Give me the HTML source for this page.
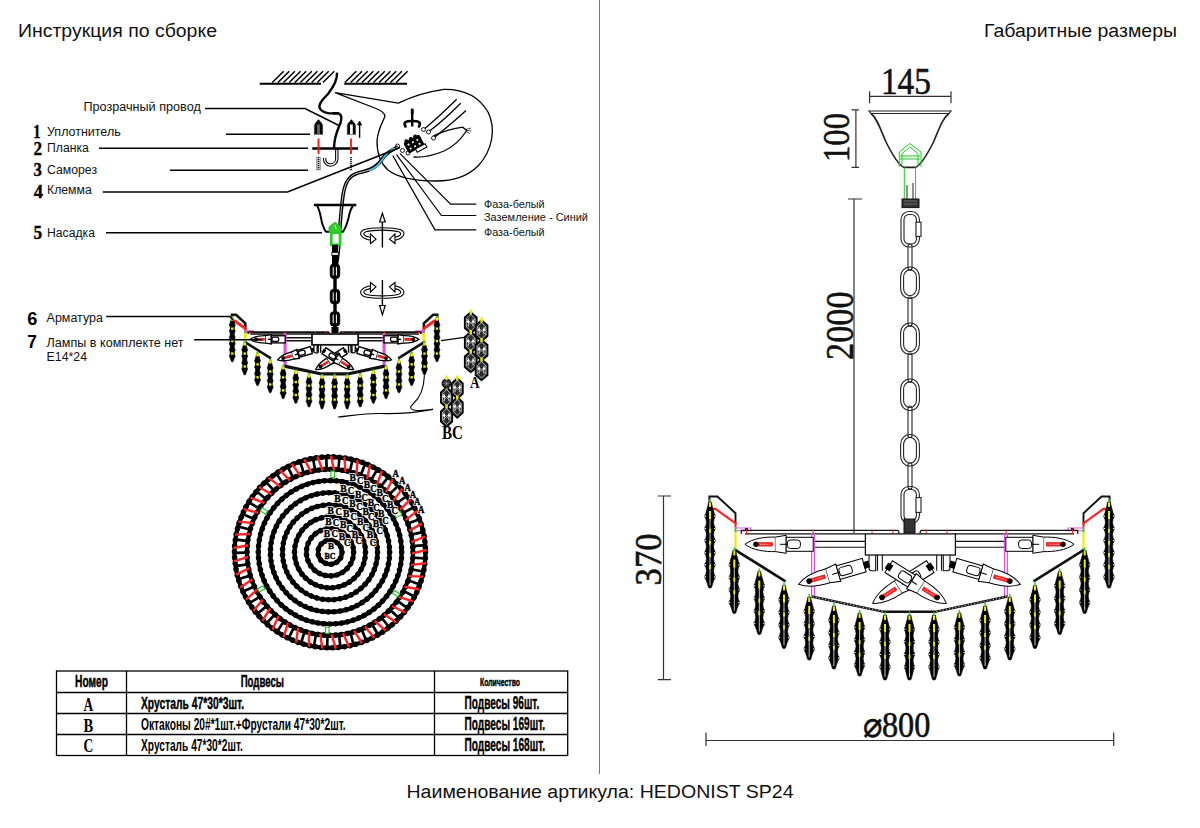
<!DOCTYPE html>
<html><head><meta charset="utf-8">
<style>
html,body{margin:0;padding:0;background:#fff;width:1200px;height:828px;overflow:hidden}
svg{position:absolute;left:0;top:0}
text{font-family:"Liberation Sans",sans-serif}
text.sf,.sf text{font-family:"Liberation Serif",serif}
</style></head><body>
<svg width="1200" height="828" viewBox="0 0 1200 828">
<rect width="1200" height="828" fill="#fff"/>
<!-- divider -->
<line x1="599.5" y1="0" x2="599.5" y2="774" stroke="#777" stroke-width="1"/>
<!-- headings -->
<text x="18" y="37" font-size="18" fill="#111" textLength="199" lengthAdjust="spacingAndGlyphs">Инструкция по сборке</text>
<text x="984" y="36.5" font-size="18" fill="#111" textLength="193" lengthAdjust="spacingAndGlyphs">Габаритные размеры</text>
<text x="406.5" y="798" font-size="18" fill="#111" textLength="387" lengthAdjust="spacingAndGlyphs">Наименование артикула: HEDONIST SP24</text>

<!--DRAW-->
<g id="circ">
<line x1="338.3" y1="469.7" x2="339.6" y2="456.8" stroke="#000" stroke-width="2.7"/>
<line x1="349.7" y1="471.7" x2="352.8" y2="459.0" stroke="#000" stroke-width="2.7"/>
<line x1="360.7" y1="475.2" x2="365.5" y2="463.1" stroke="#000" stroke-width="2.7"/>
<line x1="371.1" y1="480.2" x2="377.6" y2="468.9" stroke="#000" stroke-width="2.7"/>
<line x1="380.8" y1="486.6" x2="388.7" y2="476.4" stroke="#000" stroke-width="2.7"/>
<line x1="389.4" y1="494.4" x2="398.7" y2="485.3" stroke="#000" stroke-width="2.7"/>
<line x1="396.9" y1="503.2" x2="407.4" y2="495.5" stroke="#000" stroke-width="2.7"/>
<line x1="403.1" y1="513.0" x2="414.5" y2="506.8" stroke="#000" stroke-width="2.7"/>
<line x1="407.9" y1="523.5" x2="420.0" y2="519.0" stroke="#000" stroke-width="2.7"/>
<line x1="411.1" y1="534.6" x2="423.8" y2="531.9" stroke="#000" stroke-width="2.7"/>
<line x1="412.8" y1="546.1" x2="425.7" y2="545.1" stroke="#000" stroke-width="2.7"/>
<line x1="412.8" y1="557.7" x2="425.8" y2="558.5" stroke="#000" stroke-width="2.7"/>
<line x1="411.3" y1="569.2" x2="424.0" y2="571.8" stroke="#000" stroke-width="2.7"/>
<line x1="408.1" y1="580.3" x2="420.4" y2="584.7" stroke="#000" stroke-width="2.7"/>
<line x1="403.5" y1="590.9" x2="415.0" y2="597.0" stroke="#000" stroke-width="2.7"/>
<line x1="397.4" y1="600.8" x2="407.9" y2="608.3" stroke="#000" stroke-width="2.7"/>
<line x1="390.0" y1="609.7" x2="399.4" y2="618.6" stroke="#000" stroke-width="2.7"/>
<line x1="381.4" y1="617.5" x2="389.5" y2="627.7" stroke="#000" stroke-width="2.7"/>
<line x1="371.9" y1="624.0" x2="378.4" y2="635.2" stroke="#000" stroke-width="2.7"/>
<line x1="361.5" y1="629.1" x2="366.4" y2="641.1" stroke="#000" stroke-width="2.7"/>
<line x1="350.5" y1="632.7" x2="353.7" y2="645.3" stroke="#000" stroke-width="2.7"/>
<line x1="339.1" y1="634.8" x2="340.5" y2="647.7" stroke="#000" stroke-width="2.7"/>
<line x1="327.5" y1="635.3" x2="327.1" y2="648.3" stroke="#000" stroke-width="2.7"/>
<line x1="316.0" y1="634.1" x2="313.8" y2="646.9" stroke="#000" stroke-width="2.7"/>
<line x1="304.7" y1="631.4" x2="300.8" y2="643.7" stroke="#000" stroke-width="2.7"/>
<line x1="294.0" y1="627.1" x2="288.3" y2="638.8" stroke="#000" stroke-width="2.7"/>
<line x1="283.9" y1="621.3" x2="276.7" y2="632.2" stroke="#000" stroke-width="2.7"/>
<line x1="274.8" y1="614.3" x2="266.1" y2="624.0" stroke="#000" stroke-width="2.7"/>
<line x1="266.7" y1="606.0" x2="256.8" y2="614.4" stroke="#000" stroke-width="2.7"/>
<line x1="259.8" y1="596.6" x2="248.8" y2="603.6" stroke="#000" stroke-width="2.7"/>
<line x1="254.3" y1="586.4" x2="242.5" y2="591.8" stroke="#000" stroke-width="2.7"/>
<line x1="250.3" y1="575.6" x2="237.8" y2="579.2" stroke="#000" stroke-width="2.7"/>
<line x1="247.9" y1="564.3" x2="235.0" y2="566.1" stroke="#000" stroke-width="2.7"/>
<line x1="247.0" y1="552.7" x2="234.0" y2="552.8" stroke="#000" stroke-width="2.7"/>
<line x1="247.8" y1="541.2" x2="234.9" y2="539.4" stroke="#000" stroke-width="2.7"/>
<line x1="250.1" y1="529.8" x2="237.6" y2="526.3" stroke="#000" stroke-width="2.7"/>
<line x1="254.0" y1="518.9" x2="242.1" y2="513.7" stroke="#000" stroke-width="2.7"/>
<line x1="259.4" y1="508.7" x2="248.3" y2="501.8" stroke="#000" stroke-width="2.7"/>
<line x1="266.2" y1="499.3" x2="256.2" y2="491.0" stroke="#000" stroke-width="2.7"/>
<line x1="274.2" y1="490.9" x2="265.4" y2="481.3" stroke="#000" stroke-width="2.7"/>
<line x1="283.2" y1="483.7" x2="275.9" y2="473.0" stroke="#000" stroke-width="2.7"/>
<line x1="293.2" y1="477.9" x2="287.5" y2="466.2" stroke="#000" stroke-width="2.7"/>
<line x1="304.0" y1="473.5" x2="299.9" y2="461.1" stroke="#000" stroke-width="2.7"/>
<line x1="315.2" y1="470.6" x2="312.9" y2="457.8" stroke="#000" stroke-width="2.7"/>
<line x1="326.7" y1="469.4" x2="326.2" y2="456.4" stroke="#000" stroke-width="2.7"/>
<circle cx="330.0" cy="552.3" r="95.5" fill="none" stroke="#000" stroke-width="4.2"/>
<circle cx="330.0" cy="552.3" r="95.5" fill="none" stroke="#000" stroke-width="5.6" stroke-linecap="round" stroke-dasharray="0.01 5.873"/>
<circle cx="330.0" cy="552.3" r="83" fill="none" stroke="#000" stroke-width="4.2"/>
<circle cx="330.0" cy="552.3" r="83" fill="none" stroke="#000" stroke-width="5.6" stroke-linecap="round" stroke-dasharray="0.01 5.916"/>
<circle cx="330.0" cy="552.3" r="71.7" fill="none" stroke="#000" stroke-width="4.2"/>
<circle cx="330.0" cy="552.3" r="71.7" fill="none" stroke="#000" stroke-width="5.6" stroke-linecap="round" stroke-dasharray="0.01 5.918"/>
<circle cx="330.0" cy="552.3" r="59.6" fill="none" stroke="#000" stroke-width="4.2"/>
<circle cx="330.0" cy="552.3" r="59.6" fill="none" stroke="#000" stroke-width="5.6" stroke-linecap="round" stroke-dasharray="0.01 5.934"/>
<circle cx="330.0" cy="552.3" r="47.5" fill="none" stroke="#000" stroke-width="4.2"/>
<circle cx="330.0" cy="552.3" r="47.5" fill="none" stroke="#000" stroke-width="5.6" stroke-linecap="round" stroke-dasharray="0.01 5.842"/>
<circle cx="330.0" cy="552.3" r="35.5" fill="none" stroke="#000" stroke-width="4.2"/>
<circle cx="330.0" cy="552.3" r="35.5" fill="none" stroke="#000" stroke-width="5.6" stroke-linecap="round" stroke-dasharray="0.01 5.860"/>
<circle cx="330.0" cy="552.3" r="23.6" fill="none" stroke="#000" stroke-width="4.2"/>
<circle cx="330.0" cy="552.3" r="23.6" fill="none" stroke="#000" stroke-width="5.6" stroke-linecap="round" stroke-dasharray="0.01 5.921"/>
<circle cx="330.0" cy="552.3" r="12" fill="none" stroke="#000" stroke-width="4.2"/>
<circle cx="330.0" cy="552.3" r="12" fill="none" stroke="#000" stroke-width="5.6" stroke-linecap="round" stroke-dasharray="0.01 5.790"/>
<line x1="334.1" y1="470.4" x2="331.0" y2="455.8" stroke="#f22" stroke-width="2.4"/>
<line x1="345.5" y1="471.8" x2="344.4" y2="456.9" stroke="#f22" stroke-width="2.4"/>
<line x1="356.5" y1="474.7" x2="357.5" y2="459.8" stroke="#f22" stroke-width="2.4"/>
<line x1="367.1" y1="479.1" x2="370.1" y2="464.5" stroke="#f22" stroke-width="2.4"/>
<line x1="376.9" y1="485.0" x2="382.0" y2="471.0" stroke="#f22" stroke-width="2.4"/>
<line x1="385.8" y1="492.2" x2="392.8" y2="479.0" stroke="#f22" stroke-width="2.4"/>
<line x1="393.6" y1="500.5" x2="402.4" y2="488.4" stroke="#f22" stroke-width="2.4"/>
<line x1="400.2" y1="509.9" x2="410.5" y2="499.1" stroke="#f22" stroke-width="2.4"/>
<line x1="405.4" y1="520.1" x2="417.2" y2="510.9" stroke="#f22" stroke-width="2.4"/>
<line x1="409.2" y1="530.9" x2="422.1" y2="523.4" stroke="#f22" stroke-width="2.4"/>
<line x1="411.4" y1="542.1" x2="425.2" y2="536.5" stroke="#f22" stroke-width="2.4"/>
<line x1="412.0" y1="553.5" x2="426.5" y2="549.9" stroke="#f22" stroke-width="2.4"/>
<line x1="411.0" y1="564.9" x2="425.9" y2="563.3" stroke="#f22" stroke-width="2.4"/>
<line x1="408.5" y1="576.1" x2="423.4" y2="576.6" stroke="#f22" stroke-width="2.4"/>
<line x1="404.4" y1="586.8" x2="419.1" y2="589.3" stroke="#f22" stroke-width="2.4"/>
<line x1="398.9" y1="596.8" x2="413.1" y2="601.4" stroke="#f22" stroke-width="2.4"/>
<line x1="392.0" y1="606.0" x2="405.4" y2="612.5" stroke="#f22" stroke-width="2.4"/>
<line x1="383.9" y1="614.1" x2="396.3" y2="622.4" stroke="#f22" stroke-width="2.4"/>
<line x1="374.8" y1="621.0" x2="385.9" y2="630.9" stroke="#f22" stroke-width="2.4"/>
<line x1="364.8" y1="626.5" x2="374.4" y2="638.0" stroke="#f22" stroke-width="2.4"/>
<line x1="354.2" y1="630.7" x2="362.1" y2="643.3" stroke="#f22" stroke-width="2.4"/>
<line x1="343.0" y1="633.3" x2="349.1" y2="646.9" stroke="#f22" stroke-width="2.4"/>
<line x1="331.6" y1="634.3" x2="335.8" y2="648.6" stroke="#f22" stroke-width="2.4"/>
<line x1="320.2" y1="633.7" x2="322.3" y2="648.5" stroke="#f22" stroke-width="2.4"/>
<line x1="309.0" y1="631.6" x2="309.0" y2="646.5" stroke="#f22" stroke-width="2.4"/>
<line x1="298.1" y1="627.9" x2="296.1" y2="642.6" stroke="#f22" stroke-width="2.4"/>
<line x1="287.9" y1="622.7" x2="283.8" y2="637.0" stroke="#f22" stroke-width="2.4"/>
<line x1="278.5" y1="616.1" x2="272.5" y2="629.8" stroke="#f22" stroke-width="2.4"/>
<line x1="270.2" y1="608.4" x2="262.3" y2="621.0" stroke="#f22" stroke-width="2.4"/>
<line x1="262.9" y1="599.5" x2="253.4" y2="610.9" stroke="#f22" stroke-width="2.4"/>
<line x1="257.0" y1="589.7" x2="246.0" y2="599.7" stroke="#f22" stroke-width="2.4"/>
<line x1="252.5" y1="579.2" x2="240.2" y2="587.6" stroke="#f22" stroke-width="2.4"/>
<line x1="249.5" y1="568.1" x2="236.1" y2="574.7" stroke="#f22" stroke-width="2.4"/>
<line x1="248.1" y1="556.8" x2="233.9" y2="561.4" stroke="#f22" stroke-width="2.4"/>
<line x1="248.3" y1="545.3" x2="233.6" y2="548.0" stroke="#f22" stroke-width="2.4"/>
<line x1="250.1" y1="534.0" x2="235.1" y2="534.6" stroke="#f22" stroke-width="2.4"/>
<line x1="253.4" y1="523.1" x2="238.5" y2="521.6" stroke="#f22" stroke-width="2.4"/>
<line x1="258.2" y1="512.7" x2="243.7" y2="509.1" stroke="#f22" stroke-width="2.4"/>
<line x1="264.4" y1="503.1" x2="250.5" y2="497.5" stroke="#f22" stroke-width="2.4"/>
<line x1="271.9" y1="494.5" x2="258.9" y2="487.0" stroke="#f22" stroke-width="2.4"/>
<line x1="280.5" y1="486.9" x2="268.7" y2="477.8" stroke="#f22" stroke-width="2.4"/>
<line x1="290.1" y1="480.7" x2="279.7" y2="470.0" stroke="#f22" stroke-width="2.4"/>
<line x1="300.4" y1="475.8" x2="291.6" y2="463.8" stroke="#f22" stroke-width="2.4"/>
<line x1="311.4" y1="472.4" x2="304.3" y2="459.3" stroke="#f22" stroke-width="2.4"/>
<line x1="322.7" y1="470.6" x2="317.5" y2="456.6" stroke="#f22" stroke-width="2.4"/>
<rect x="330.9" y="471.1" width="3.6" height="6.4" fill="#fff" stroke="#2b2" stroke-width="1.1" transform="rotate(2 332.7 474.3)"/>
<rect x="396.4" y="511.3" width="3.6" height="6.4" fill="#fff" stroke="#2b2" stroke-width="1.1" transform="rotate(61 398.2 514.5)"/>
<rect x="394.3" y="590.4" width="3.6" height="6.4" fill="#fff" stroke="#2b2" stroke-width="1.1" transform="rotate(122 396.1 593.6)"/>
<rect x="325.5" y="627.1" width="3.6" height="6.4" fill="#fff" stroke="#2b2" stroke-width="1.1" transform="rotate(182 327.3 630.3)"/>
<rect x="259.3" y="585.7" width="3.6" height="6.4" fill="#fff" stroke="#2b2" stroke-width="1.1" transform="rotate(242 261.1 588.9)"/>
<rect x="262.1" y="507.8" width="3.6" height="6.4" fill="#fff" stroke="#2b2" stroke-width="1.1" transform="rotate(302 263.9 511.0)"/>
<g class="sf" font-weight="bold" font-size="10.5" fill="#fff" stroke="#fff" stroke-width="2.2" stroke-linejoin="round"><text x="352.8" y="481.2" text-anchor="middle" textLength="6.4" lengthAdjust="spacingAndGlyphs">B</text>
<text x="360.1" y="484.0" text-anchor="middle" textLength="6.4" lengthAdjust="spacingAndGlyphs">C</text>
<text x="367.0" y="487.5" text-anchor="middle" textLength="6.4" lengthAdjust="spacingAndGlyphs">B</text>
<text x="373.5" y="491.6" text-anchor="middle" textLength="6.4" lengthAdjust="spacingAndGlyphs">C</text>
<text x="379.6" y="496.4" text-anchor="middle" textLength="6.4" lengthAdjust="spacingAndGlyphs">B</text>
<text x="385.2" y="501.7" text-anchor="middle" textLength="6.4" lengthAdjust="spacingAndGlyphs">C</text>
<text x="390.2" y="507.6" text-anchor="middle" textLength="6.4" lengthAdjust="spacingAndGlyphs">B</text>
<text x="394.6" y="513.9" text-anchor="middle" textLength="6.4" lengthAdjust="spacingAndGlyphs">C</text>
<text x="343.5" y="492.2" text-anchor="middle" textLength="6.4" lengthAdjust="spacingAndGlyphs">B</text>
<text x="351.0" y="494.4" text-anchor="middle" textLength="6.4" lengthAdjust="spacingAndGlyphs">C</text>
<text x="358.1" y="497.5" text-anchor="middle" textLength="6.4" lengthAdjust="spacingAndGlyphs">B</text>
<text x="364.8" y="501.4" text-anchor="middle" textLength="6.4" lengthAdjust="spacingAndGlyphs">C</text>
<text x="370.9" y="506.0" text-anchor="middle" textLength="6.4" lengthAdjust="spacingAndGlyphs">B</text>
<text x="376.5" y="511.4" text-anchor="middle" textLength="6.4" lengthAdjust="spacingAndGlyphs">C</text>
<text x="381.3" y="517.3" text-anchor="middle" textLength="6.4" lengthAdjust="spacingAndGlyphs">B</text>
<text x="385.4" y="523.8" text-anchor="middle" textLength="6.4" lengthAdjust="spacingAndGlyphs">C</text>
<text x="337.5" y="502.3" text-anchor="middle" textLength="6.4" lengthAdjust="spacingAndGlyphs">B</text>
<text x="345.2" y="503.9" text-anchor="middle" textLength="6.4" lengthAdjust="spacingAndGlyphs">C</text>
<text x="352.5" y="506.6" text-anchor="middle" textLength="6.4" lengthAdjust="spacingAndGlyphs">B</text>
<text x="359.4" y="510.3" text-anchor="middle" textLength="6.4" lengthAdjust="spacingAndGlyphs">C</text>
<text x="365.7" y="514.9" text-anchor="middle" textLength="6.4" lengthAdjust="spacingAndGlyphs">B</text>
<text x="371.3" y="520.4" text-anchor="middle" textLength="6.4" lengthAdjust="spacingAndGlyphs">C</text>
<text x="376.0" y="526.7" text-anchor="middle" textLength="6.4" lengthAdjust="spacingAndGlyphs">B</text>
<text x="379.8" y="533.6" text-anchor="middle" textLength="6.4" lengthAdjust="spacingAndGlyphs">C</text>
<text x="330.7" y="514.2" text-anchor="middle" textLength="6.4" lengthAdjust="spacingAndGlyphs">B</text>
<text x="338.6" y="514.8" text-anchor="middle" textLength="6.4" lengthAdjust="spacingAndGlyphs">C</text>
<text x="346.3" y="516.8" text-anchor="middle" textLength="6.4" lengthAdjust="spacingAndGlyphs">B</text>
<text x="353.6" y="520.3" text-anchor="middle" textLength="6.4" lengthAdjust="spacingAndGlyphs">C</text>
<text x="360.1" y="525.1" text-anchor="middle" textLength="6.4" lengthAdjust="spacingAndGlyphs">B</text>
<text x="365.6" y="531.1" text-anchor="middle" textLength="6.4" lengthAdjust="spacingAndGlyphs">C</text>
<text x="369.9" y="538.1" text-anchor="middle" textLength="6.4" lengthAdjust="spacingAndGlyphs">B</text>
<text x="372.9" y="545.9" text-anchor="middle" textLength="6.4" lengthAdjust="spacingAndGlyphs">C</text>
<text x="328.4" y="525.3" text-anchor="middle" textLength="6.4" lengthAdjust="spacingAndGlyphs">B</text>
<text x="335.9" y="525.8" text-anchor="middle" textLength="6.4" lengthAdjust="spacingAndGlyphs">C</text>
<text x="343.2" y="528.1" text-anchor="middle" textLength="6.4" lengthAdjust="spacingAndGlyphs">B</text>
<text x="349.6" y="532.1" text-anchor="middle" textLength="6.4" lengthAdjust="spacingAndGlyphs">C</text>
<text x="354.9" y="537.6" text-anchor="middle" textLength="6.4" lengthAdjust="spacingAndGlyphs">B</text>
<text x="358.7" y="544.2" text-anchor="middle" textLength="6.4" lengthAdjust="spacingAndGlyphs">C</text>
<text x="326.9" y="536.5" text-anchor="middle" textLength="6.4" lengthAdjust="spacingAndGlyphs">B</text>
<text x="334.8" y="536.9" text-anchor="middle" textLength="6.4" lengthAdjust="spacingAndGlyphs">C</text>
<text x="341.9" y="540.4" text-anchor="middle" textLength="6.4" lengthAdjust="spacingAndGlyphs">B</text>
<text x="347.1" y="546.3" text-anchor="middle" textLength="6.4" lengthAdjust="spacingAndGlyphs">C</text>
<text x="395.8" y="477.4" text-anchor="middle" textLength="6.4" lengthAdjust="spacingAndGlyphs">A</text>
<text x="402.1" y="483.7" text-anchor="middle" textLength="6.4" lengthAdjust="spacingAndGlyphs">A</text>
<text x="407.8" y="490.5" text-anchor="middle" textLength="6.4" lengthAdjust="spacingAndGlyphs">A</text>
<text x="412.9" y="497.7" text-anchor="middle" textLength="6.4" lengthAdjust="spacingAndGlyphs">A</text>
<text x="417.3" y="505.4" text-anchor="middle" textLength="6.4" lengthAdjust="spacingAndGlyphs">A</text>
<text x="421.1" y="513.3" text-anchor="middle" textLength="6.4" lengthAdjust="spacingAndGlyphs">A</text>
<text x="331" y="549" font-size="9" text-anchor="middle">B</text>
<text x="330" y="559" font-size="9" text-anchor="middle" textLength="11" lengthAdjust="spacingAndGlyphs">BC</text></g>
<g class="sf" font-weight="bold" font-size="10.5" fill="#000" stroke="#000" stroke-width="0.4"><text x="352.8" y="481.2" text-anchor="middle" textLength="6.4" lengthAdjust="spacingAndGlyphs">B</text>
<text x="360.1" y="484.0" text-anchor="middle" textLength="6.4" lengthAdjust="spacingAndGlyphs">C</text>
<text x="367.0" y="487.5" text-anchor="middle" textLength="6.4" lengthAdjust="spacingAndGlyphs">B</text>
<text x="373.5" y="491.6" text-anchor="middle" textLength="6.4" lengthAdjust="spacingAndGlyphs">C</text>
<text x="379.6" y="496.4" text-anchor="middle" textLength="6.4" lengthAdjust="spacingAndGlyphs">B</text>
<text x="385.2" y="501.7" text-anchor="middle" textLength="6.4" lengthAdjust="spacingAndGlyphs">C</text>
<text x="390.2" y="507.6" text-anchor="middle" textLength="6.4" lengthAdjust="spacingAndGlyphs">B</text>
<text x="394.6" y="513.9" text-anchor="middle" textLength="6.4" lengthAdjust="spacingAndGlyphs">C</text>
<text x="343.5" y="492.2" text-anchor="middle" textLength="6.4" lengthAdjust="spacingAndGlyphs">B</text>
<text x="351.0" y="494.4" text-anchor="middle" textLength="6.4" lengthAdjust="spacingAndGlyphs">C</text>
<text x="358.1" y="497.5" text-anchor="middle" textLength="6.4" lengthAdjust="spacingAndGlyphs">B</text>
<text x="364.8" y="501.4" text-anchor="middle" textLength="6.4" lengthAdjust="spacingAndGlyphs">C</text>
<text x="370.9" y="506.0" text-anchor="middle" textLength="6.4" lengthAdjust="spacingAndGlyphs">B</text>
<text x="376.5" y="511.4" text-anchor="middle" textLength="6.4" lengthAdjust="spacingAndGlyphs">C</text>
<text x="381.3" y="517.3" text-anchor="middle" textLength="6.4" lengthAdjust="spacingAndGlyphs">B</text>
<text x="385.4" y="523.8" text-anchor="middle" textLength="6.4" lengthAdjust="spacingAndGlyphs">C</text>
<text x="337.5" y="502.3" text-anchor="middle" textLength="6.4" lengthAdjust="spacingAndGlyphs">B</text>
<text x="345.2" y="503.9" text-anchor="middle" textLength="6.4" lengthAdjust="spacingAndGlyphs">C</text>
<text x="352.5" y="506.6" text-anchor="middle" textLength="6.4" lengthAdjust="spacingAndGlyphs">B</text>
<text x="359.4" y="510.3" text-anchor="middle" textLength="6.4" lengthAdjust="spacingAndGlyphs">C</text>
<text x="365.7" y="514.9" text-anchor="middle" textLength="6.4" lengthAdjust="spacingAndGlyphs">B</text>
<text x="371.3" y="520.4" text-anchor="middle" textLength="6.4" lengthAdjust="spacingAndGlyphs">C</text>
<text x="376.0" y="526.7" text-anchor="middle" textLength="6.4" lengthAdjust="spacingAndGlyphs">B</text>
<text x="379.8" y="533.6" text-anchor="middle" textLength="6.4" lengthAdjust="spacingAndGlyphs">C</text>
<text x="330.7" y="514.2" text-anchor="middle" textLength="6.4" lengthAdjust="spacingAndGlyphs">B</text>
<text x="338.6" y="514.8" text-anchor="middle" textLength="6.4" lengthAdjust="spacingAndGlyphs">C</text>
<text x="346.3" y="516.8" text-anchor="middle" textLength="6.4" lengthAdjust="spacingAndGlyphs">B</text>
<text x="353.6" y="520.3" text-anchor="middle" textLength="6.4" lengthAdjust="spacingAndGlyphs">C</text>
<text x="360.1" y="525.1" text-anchor="middle" textLength="6.4" lengthAdjust="spacingAndGlyphs">B</text>
<text x="365.6" y="531.1" text-anchor="middle" textLength="6.4" lengthAdjust="spacingAndGlyphs">C</text>
<text x="369.9" y="538.1" text-anchor="middle" textLength="6.4" lengthAdjust="spacingAndGlyphs">B</text>
<text x="372.9" y="545.9" text-anchor="middle" textLength="6.4" lengthAdjust="spacingAndGlyphs">C</text>
<text x="328.4" y="525.3" text-anchor="middle" textLength="6.4" lengthAdjust="spacingAndGlyphs">B</text>
<text x="335.9" y="525.8" text-anchor="middle" textLength="6.4" lengthAdjust="spacingAndGlyphs">C</text>
<text x="343.2" y="528.1" text-anchor="middle" textLength="6.4" lengthAdjust="spacingAndGlyphs">B</text>
<text x="349.6" y="532.1" text-anchor="middle" textLength="6.4" lengthAdjust="spacingAndGlyphs">C</text>
<text x="354.9" y="537.6" text-anchor="middle" textLength="6.4" lengthAdjust="spacingAndGlyphs">B</text>
<text x="358.7" y="544.2" text-anchor="middle" textLength="6.4" lengthAdjust="spacingAndGlyphs">C</text>
<text x="326.9" y="536.5" text-anchor="middle" textLength="6.4" lengthAdjust="spacingAndGlyphs">B</text>
<text x="334.8" y="536.9" text-anchor="middle" textLength="6.4" lengthAdjust="spacingAndGlyphs">C</text>
<text x="341.9" y="540.4" text-anchor="middle" textLength="6.4" lengthAdjust="spacingAndGlyphs">B</text>
<text x="347.1" y="546.3" text-anchor="middle" textLength="6.4" lengthAdjust="spacingAndGlyphs">C</text>
<text x="395.8" y="477.4" text-anchor="middle" textLength="6.4" lengthAdjust="spacingAndGlyphs">A</text>
<text x="402.1" y="483.7" text-anchor="middle" textLength="6.4" lengthAdjust="spacingAndGlyphs">A</text>
<text x="407.8" y="490.5" text-anchor="middle" textLength="6.4" lengthAdjust="spacingAndGlyphs">A</text>
<text x="412.9" y="497.7" text-anchor="middle" textLength="6.4" lengthAdjust="spacingAndGlyphs">A</text>
<text x="417.3" y="505.4" text-anchor="middle" textLength="6.4" lengthAdjust="spacingAndGlyphs">A</text>
<text x="421.1" y="513.3" text-anchor="middle" textLength="6.4" lengthAdjust="spacingAndGlyphs">A</text>
<text x="331" y="549" font-size="9" text-anchor="middle">B</text>
<text x="330" y="559" font-size="9" text-anchor="middle" textLength="11" lengthAdjust="spacingAndGlyphs">BC</text></g>
</g>
<g id="rchand">
<g stroke="#333" stroke-width="1.2" fill="none">
<path d="M869.6,96.3 L951,96.3 M869.6,91.3 L869.6,103.3 M951,91.3 L951,103.3"/>
<path d="M855.9,109.8 L855.9,167.4 M851.5,109.8 L859,109.8 M851.5,167.4 L859,167.4"/>
<path d="M854,199 L854,533 M848,199 L862,199"/>
<path d="M663.5,496 L663.5,679.6 M657.8,496 L671,496 M657.8,679.6 L671,679.6"/>
<path d="M706,740.5 L1113.7,740.5 M706,732.5 L706,746 M1113.7,732.5 L1113.7,746"/>
</g>
<path d="M869,111 L951,111 L949,113.5 L871,113.5 Z" fill="#fff" stroke="#222" stroke-width="1.2"/>
<path d="M871,113.5 C877,118 880,128 886,142 C893,156 899,165 903.7,167.4 L915.6,167.4 C920.5,165 926.5,156 933.5,142 C939.5,128 942.5,118 949,113.5" fill="none" stroke="#222" stroke-width="1.6"/>
<g fill="none" stroke="#2c2" stroke-width="1">
<path d="M899.3,167 L899.3,152 L909.8,143.5 L921,152 L921,167 M902,165 L902,153.5 L909.8,147 L918,153.5 L918,165 M900,156 L920,156 M900,159 L920,159"/>
<path d="M904.3,167.4 L904.3,200 M915.6,167.4 L915.6,200"/>
</g>
<path d="M907,185 L907,200 M913,183 L913,200" stroke="#222" stroke-width="1" fill="none"/>
<rect x="902" y="199" width="17" height="8.6" fill="#333" stroke="#111" stroke-width="1"/>
<path d="M904,201 L917,201 M904,204 L917,204" stroke="#888" stroke-width="0.7"/>
<g fill="none" stroke="#222" stroke-width="1.1">
<rect x="901" y="211.5" width="18.4" height="35.5" rx="8" ry="8"/><rect x="904" y="214.5" width="12.4" height="29.5" rx="5" ry="5"/><rect x="916" y="222.2" width="5" height="14.2" fill="#fff"/>
<rect x="900.6" y="267" width="18.8" height="31.5" rx="9" ry="10"/>
<rect x="903.6" y="270" width="12.8" height="25.5" rx="6" ry="7"/>
<rect x="900.6" y="323" width="18.8" height="31.5" rx="9" ry="10"/>
<rect x="903.6" y="326" width="12.8" height="25.5" rx="6" ry="7"/>
<rect x="900.6" y="379" width="18.8" height="31.5" rx="9" ry="10"/>
<rect x="903.6" y="382" width="12.8" height="25.5" rx="6" ry="7"/>
<rect x="900.6" y="434.5" width="18.8" height="31.5" rx="9" ry="10"/>
<rect x="903.6" y="437.5" width="12.8" height="25.5" rx="6" ry="7"/>
<rect x="908" y="244" width="4" height="26" rx="2"/>
<rect x="908" y="297" width="4" height="29" rx="2"/>
<rect x="908" y="353" width="4" height="29" rx="2"/>
<rect x="908" y="406" width="4" height="31.5" rx="2"/>
<rect x="908" y="463" width="4" height="26" rx="2"/>
<rect x="901" y="486.5" width="18.4" height="37.0" rx="8" ry="8"/><rect x="904" y="489.5" width="12.4" height="31.0" rx="5" ry="5"/><rect x="916" y="497.6" width="5" height="14.8" fill="#fff"/>
</g>
<rect x="904" y="519" width="11" height="14" fill="#333" stroke="#111" stroke-width="1"/>
<g class="sf" fill="#111" stroke="#111" stroke-width="0.6">
<text x="880.9" y="93.5" font-size="38" textLength="50" lengthAdjust="spacingAndGlyphs">145</text>
<text transform="translate(849.3,162) rotate(-90)" x="0" y="0" font-size="38" textLength="49" lengthAdjust="spacingAndGlyphs">100</text>
<text transform="translate(853,359.9) rotate(-90)" x="0" y="0" font-size="39" textLength="68.5" lengthAdjust="spacingAndGlyphs">2000</text>
<text transform="translate(661.4,585.4) rotate(-90)" x="0" y="0" font-size="38" textLength="52" lengthAdjust="spacingAndGlyphs">370</text>
<text x="862.6" y="736.6" font-size="35" textLength="67.7" lengthAdjust="spacingAndGlyphs">⌀800</text>
</g>
<polyline points="709.4,502 709.4,496.5 717.4,496.5 735.5,513.2 735.5,524" fill="none" stroke="#111" stroke-width="1.90"/>
<polyline points="710,513 710,509.6 715.2,508.6 735.5,523.3 735.5,527.5" fill="none" stroke="#f22" stroke-width="2.10"/>
<line x1="735.5" y1="527.5" x2="735.5" y2="532" stroke="#3c3" stroke-width="2.00"/>
<line x1="735.5" y1="532" x2="735.5" y2="548" stroke="#ee0" stroke-width="2.20"/>
<line x1="735.5" y1="548" x2="735.5" y2="550.5" stroke="#3c3" stroke-width="2.00"/>
<rect x="735.5" y="528" width="15.5" height="2.8" fill="none" stroke="#d5d" stroke-width="1.00"/>
<rect x="745" y="528.3" width="3" height="2.2" fill="#000"/>
<path d="M741.3,534 L741.3,530.3 L897.4,530.3 Q899,530.3 899,533.9 M745,533.9 L865.4,533.9" fill="none" stroke="#111" stroke-width="1.20"/>
<line x1="746.4" y1="529.5" x2="746.4" y2="534.5" stroke="#f22" stroke-width="1.00"/>
<line x1="813" y1="529.5" x2="813" y2="534.5" stroke="#f22" stroke-width="1.00"/>
<line x1="872" y1="529.5" x2="872" y2="534.5" stroke="#f22" stroke-width="1.00"/>
<line x1="892.9" y1="529.5" x2="892.9" y2="534.5" stroke="#f22" stroke-width="1.00"/>
<path d="M813.8,541.4 L865.4,541.4 M813.8,547.2 L865.4,547.2" fill="none" stroke="#111" stroke-width="1.10"/>
<path d="M811.6,532.8 L811.6,596.5 M814.5,532.8 L814.5,596.5" fill="none" stroke="#d5d" stroke-width="1.30"/>
<g transform="translate(744.9,544.3) rotate(0.0)" fill="none" stroke="#000" stroke-width="1.00">
<path d="M0,0 C8,-6 20,-7.5 30.5,-7.2 L30.5,7.3 C20,7.5 8,6 0,0 Z" fill="#fff"/>
<path d="M30.5,-7.2 L41.3,-9 L41.3,9 L30.5,7.3" fill="#fff"/>
<rect x="41.3" y="-7" width="27" height="14" fill="#fff"/>
<rect x="42.5" y="-4.3" width="13" height="8.5" rx="3"/>
<line x1="35" y1="0" x2="42.5" y2="0"/>
<rect x="13.1" y="-1.8" width="14.5" height="3.6" fill="#f22" stroke="#c00" stroke-width="0.50"/>
<path d="M15,0 L26,0" stroke="#fcc" stroke-width="1" stroke-dasharray="1.2 1"/>
<circle cx="11" cy="0" r="2.3" fill="#000"/>
</g>
<g transform="translate(798.6,584.2) rotate(-16.2)" fill="none" stroke="#000" stroke-width="1.00">
<path d="M0,0 C8,-6 20,-7.5 30.5,-7.2 L30.5,7.3 C20,7.5 8,6 0,0 Z" fill="#fff"/>
<path d="M30.5,-7.2 L41.3,-9 L41.3,9 L30.5,7.3" fill="#fff"/>
<rect x="41.3" y="-7" width="27" height="14" fill="#fff"/>
<rect x="42.5" y="-4.3" width="13" height="8.5" rx="3"/>
<line x1="35" y1="0" x2="42.5" y2="0"/>
<rect x="13.1" y="-1.8" width="14.5" height="3.6" fill="#f22" stroke="#c00" stroke-width="0.50"/>
<path d="M15,0 L26,0" stroke="#fcc" stroke-width="1" stroke-dasharray="1.2 1"/>
<circle cx="11" cy="0" r="2.3" fill="#000"/>
</g>
<rect x="-3" y="-3.5" width="6" height="7" fill="#000" transform="translate(866.5,564.8) rotate(-16.2)"/>
<line x1="735.5" y1="550.1" x2="785.5" y2="581.3" stroke="#111" stroke-width="2.60"/>
<polyline points="811.6,596.5 884,611.8 909.5,611.8" fill="none" stroke="#111" stroke-width="2.40"/>
<line x1="812.5" y1="596.7" x2="883" y2="611.6" stroke="#fff" stroke-width="0.8" stroke-dasharray="1.2 2"/>
<path d="M869,555 L869,568 Q869,570.7 872,570.7 L875.7,570.7 L875.7,555 M877.5,555 L877.5,570.7 M882.3,555 L882.3,570.7" fill="none" stroke="#111" stroke-width="1.10"/>
<g transform="translate(872.7,603.3) rotate(-32.5)" fill="none" stroke="#000" stroke-width="1.00">
<path d="M0,0 C8,-6 20,-7.5 30.5,-7.2 L30.5,7.3 C20,7.5 8,6 0,0 Z" fill="#fff"/>
<path d="M30.5,-7.2 L41.3,-9 L41.3,9 L30.5,7.3" fill="#fff"/>
<rect x="41.3" y="-7" width="27" height="14" fill="#fff"/>
<rect x="42.5" y="-4.3" width="13" height="8.5" rx="3"/>
<line x1="35" y1="0" x2="42.5" y2="0"/>
<rect x="13.1" y="-1.8" width="14.5" height="3.6" fill="#f22" stroke="#c00" stroke-width="0.50"/>
<path d="M15,0 L26,0" stroke="#fcc" stroke-width="1" stroke-dasharray="1.2 1"/>
<circle cx="11" cy="0" r="2.3" fill="#000"/>
</g>
<rect x="-3" y="-3.5" width="6" height="7" fill="#000" transform="translate(930,567) rotate(-32.5)"/>
<path d="M709.1,502.0 L711.40,502.00 L712.20,506.00 L713.90,512.00 L714.16,513.60 L715.04,514.90 L715.20,516.20 L715.04,517.50 L714.16,518.80 L713.54,522.28 L714.16,525.76 L715.04,527.06 L715.20,528.36 L715.04,529.66 L714.16,530.96 L713.54,534.44 L714.16,537.92 L715.04,539.22 L715.20,540.52 L715.04,541.82 L714.16,543.12 L713.54,546.60 L714.16,550.08 L715.04,551.38 L715.20,552.68 L715.04,553.98 L714.16,555.28 L713.54,558.76 L714.16,562.24 L715.04,563.54 L715.20,564.84 L715.04,566.14 L714.16,567.44 L713.54,570.92 L714.16,574.40 L715.04,575.70 L715.20,577.00 L715.04,578.30 L714.16,579.60 L712.86,583.00 L711.60,587.20 L710.90,588.00 L709.10,588.00 L708.40,587.20 L707.14,583.00 L705.84,579.60 L704.96,578.30 L704.80,577.00 L704.96,575.70 L705.84,574.40 L706.46,570.92 L705.84,567.44 L704.96,566.14 L704.80,564.84 L704.96,563.54 L705.84,562.24 L706.46,558.76 L705.84,555.28 L704.96,553.98 L704.80,552.68 L704.96,551.38 L705.84,550.08 L706.46,546.60 L705.84,543.12 L704.96,541.82 L704.80,540.52 L704.96,539.22 L705.84,537.92 L706.46,534.44 L705.84,530.96 L704.96,529.66 L704.80,528.36 L704.96,527.06 L705.84,525.76 L706.46,522.28 L705.84,518.80 L704.96,517.50 L704.80,516.20 L704.96,514.90 L705.84,513.60 L706.10,512.00 L707.80,506.00 L708.60,502.00 Z" fill="#000" stroke="#000" stroke-width="0.60" stroke-linejoin="round"/>
<line x1="710.0" y1="499.0" x2="710.0" y2="502.5" stroke="#3c3" stroke-width="1.60"/>
<line x1="710.0" y1="516.0" x2="710.0" y2="585.0" stroke="#ddd" stroke-width="0.9"/>
<line x1="710.0" y1="502.5" x2="710.0" y2="507.0" stroke="#ee0" stroke-width="2"/>
<line x1="710.0" y1="511.0" x2="710.0" y2="519.0" stroke="#ee0" stroke-width="2"/>
<line x1="710.0" y1="528.7" x2="710.0" y2="532.7" stroke="#ee0" stroke-width="1.8"/>
<line x1="710.0" y1="540.8" x2="710.0" y2="544.8" stroke="#ee0" stroke-width="1.8"/>
<line x1="710.0" y1="553.0" x2="710.0" y2="557.0" stroke="#ee0" stroke-width="1.8"/>
<line x1="710.0" y1="565.1" x2="710.0" y2="569.1" stroke="#ee0" stroke-width="1.8"/>
<circle cx="705.4" cy="516.2" r="0.7" fill="#fff"/><circle cx="714.6" cy="516.2" r="0.7" fill="#fff"/>
<circle cx="705.4" cy="528.4" r="0.7" fill="#fff"/><circle cx="714.6" cy="528.4" r="0.7" fill="#fff"/>
<circle cx="705.4" cy="540.5" r="0.7" fill="#fff"/><circle cx="714.6" cy="540.5" r="0.7" fill="#fff"/>
<circle cx="705.4" cy="552.7" r="0.7" fill="#fff"/><circle cx="714.6" cy="552.7" r="0.7" fill="#fff"/>
<circle cx="705.4" cy="564.8" r="0.7" fill="#fff"/><circle cx="714.6" cy="564.8" r="0.7" fill="#fff"/>
<circle cx="705.4" cy="577.0" r="0.7" fill="#fff"/><circle cx="714.6" cy="577.0" r="0.7" fill="#fff"/>
<path d="M733.4,550.5 L735.70,550.50 L736.50,554.50 L738.20,560.50 L738.46,562.10 L739.34,563.40 L739.50,564.70 L739.34,566.00 L738.46,567.30 L737.84,571.00 L738.46,574.70 L739.34,576.00 L739.50,577.30 L739.34,578.60 L738.46,579.90 L737.84,583.60 L738.46,587.30 L739.34,588.60 L739.50,589.90 L739.34,591.20 L738.46,592.50 L737.84,596.20 L738.46,599.90 L739.34,601.20 L739.50,602.50 L739.34,603.80 L738.46,605.10 L737.16,608.50 L735.90,612.70 L735.20,613.50 L733.40,613.50 L732.70,612.70 L731.44,608.50 L730.14,605.10 L729.26,603.80 L729.10,602.50 L729.26,601.20 L730.14,599.90 L730.76,596.20 L730.14,592.50 L729.26,591.20 L729.10,589.90 L729.26,588.60 L730.14,587.30 L730.76,583.60 L730.14,579.90 L729.26,578.60 L729.10,577.30 L729.26,576.00 L730.14,574.70 L730.76,571.00 L730.14,567.30 L729.26,566.00 L729.10,564.70 L729.26,563.40 L730.14,562.10 L730.40,560.50 L732.10,554.50 L732.90,550.50 Z" fill="#000" stroke="#000" stroke-width="0.60" stroke-linejoin="round"/>
<line x1="734.3" y1="547.5" x2="734.3" y2="551.0" stroke="#3c3" stroke-width="1.60"/>
<line x1="734.3" y1="564.5" x2="734.3" y2="610.5" stroke="#ddd" stroke-width="0.9"/>
<line x1="734.3" y1="551.0" x2="734.3" y2="555.5" stroke="#ee0" stroke-width="2"/>
<line x1="734.3" y1="559.5" x2="734.3" y2="567.5" stroke="#ee0" stroke-width="2"/>
<line x1="734.3" y1="577.6" x2="734.3" y2="581.6" stroke="#ee0" stroke-width="1.8"/>
<line x1="734.3" y1="590.2" x2="734.3" y2="594.2" stroke="#ee0" stroke-width="1.8"/>
<circle cx="729.7" cy="564.7" r="0.7" fill="#fff"/><circle cx="738.9" cy="564.7" r="0.7" fill="#fff"/>
<circle cx="729.7" cy="577.3" r="0.7" fill="#fff"/><circle cx="738.9" cy="577.3" r="0.7" fill="#fff"/>
<circle cx="729.7" cy="589.9" r="0.7" fill="#fff"/><circle cx="738.9" cy="589.9" r="0.7" fill="#fff"/>
<circle cx="729.7" cy="602.5" r="0.7" fill="#fff"/><circle cx="738.9" cy="602.5" r="0.7" fill="#fff"/>
<path d="M758.4,571.5 L760.70,571.50 L761.50,575.50 L763.20,581.50 L763.46,583.10 L764.34,584.40 L764.50,585.70 L764.34,587.00 L763.46,588.30 L762.84,592.00 L763.46,595.70 L764.34,597.00 L764.50,598.30 L764.34,599.60 L763.46,600.90 L762.84,604.60 L763.46,608.30 L764.34,609.60 L764.50,610.90 L764.34,612.20 L763.46,613.50 L762.84,617.20 L763.46,620.90 L764.34,622.20 L764.50,623.50 L764.34,624.80 L763.46,626.10 L762.16,629.50 L760.90,633.70 L760.20,634.50 L758.40,634.50 L757.70,633.70 L756.44,629.50 L755.14,626.10 L754.26,624.80 L754.10,623.50 L754.26,622.20 L755.14,620.90 L755.76,617.20 L755.14,613.50 L754.26,612.20 L754.10,610.90 L754.26,609.60 L755.14,608.30 L755.76,604.60 L755.14,600.90 L754.26,599.60 L754.10,598.30 L754.26,597.00 L755.14,595.70 L755.76,592.00 L755.14,588.30 L754.26,587.00 L754.10,585.70 L754.26,584.40 L755.14,583.10 L755.40,581.50 L757.10,575.50 L757.90,571.50 Z" fill="#000" stroke="#000" stroke-width="0.60" stroke-linejoin="round"/>
<line x1="759.3" y1="568.5" x2="759.3" y2="572.0" stroke="#3c3" stroke-width="1.60"/>
<line x1="759.3" y1="585.5" x2="759.3" y2="631.5" stroke="#ddd" stroke-width="0.9"/>
<line x1="759.3" y1="572.0" x2="759.3" y2="576.5" stroke="#ee0" stroke-width="2"/>
<line x1="759.3" y1="580.5" x2="759.3" y2="588.5" stroke="#ee0" stroke-width="2"/>
<line x1="759.3" y1="598.6" x2="759.3" y2="602.6" stroke="#ee0" stroke-width="1.8"/>
<line x1="759.3" y1="611.2" x2="759.3" y2="615.2" stroke="#ee0" stroke-width="1.8"/>
<circle cx="754.7" cy="585.7" r="0.7" fill="#fff"/><circle cx="763.9" cy="585.7" r="0.7" fill="#fff"/>
<circle cx="754.7" cy="598.3" r="0.7" fill="#fff"/><circle cx="763.9" cy="598.3" r="0.7" fill="#fff"/>
<circle cx="754.7" cy="610.9" r="0.7" fill="#fff"/><circle cx="763.9" cy="610.9" r="0.7" fill="#fff"/>
<circle cx="754.7" cy="623.5" r="0.7" fill="#fff"/><circle cx="763.9" cy="623.5" r="0.7" fill="#fff"/>
<path d="M783.1,585.5 L785.40,585.50 L786.20,589.50 L787.90,595.50 L788.16,597.10 L789.04,598.40 L789.20,599.70 L789.04,601.00 L788.16,602.30 L787.54,606.00 L788.16,609.70 L789.04,611.00 L789.20,612.30 L789.04,613.60 L788.16,614.90 L787.54,618.60 L788.16,622.30 L789.04,623.60 L789.20,624.90 L789.04,626.20 L788.16,627.50 L787.54,631.20 L788.16,634.90 L789.04,636.20 L789.20,637.50 L789.04,638.80 L788.16,640.10 L786.86,643.50 L785.60,647.70 L784.90,648.50 L783.10,648.50 L782.40,647.70 L781.14,643.50 L779.84,640.10 L778.96,638.80 L778.80,637.50 L778.96,636.20 L779.84,634.90 L780.46,631.20 L779.84,627.50 L778.96,626.20 L778.80,624.90 L778.96,623.60 L779.84,622.30 L780.46,618.60 L779.84,614.90 L778.96,613.60 L778.80,612.30 L778.96,611.00 L779.84,609.70 L780.46,606.00 L779.84,602.30 L778.96,601.00 L778.80,599.70 L778.96,598.40 L779.84,597.10 L780.10,595.50 L781.80,589.50 L782.60,585.50 Z" fill="#000" stroke="#000" stroke-width="0.60" stroke-linejoin="round"/>
<line x1="784.0" y1="582.5" x2="784.0" y2="586.0" stroke="#3c3" stroke-width="1.60"/>
<line x1="784.0" y1="599.5" x2="784.0" y2="645.5" stroke="#ddd" stroke-width="0.9"/>
<line x1="784.0" y1="586.0" x2="784.0" y2="590.5" stroke="#ee0" stroke-width="2"/>
<line x1="784.0" y1="594.5" x2="784.0" y2="602.5" stroke="#ee0" stroke-width="2"/>
<line x1="784.0" y1="612.6" x2="784.0" y2="616.6" stroke="#ee0" stroke-width="1.8"/>
<line x1="784.0" y1="625.2" x2="784.0" y2="629.2" stroke="#ee0" stroke-width="1.8"/>
<circle cx="779.4" cy="599.7" r="0.7" fill="#fff"/><circle cx="788.6" cy="599.7" r="0.7" fill="#fff"/>
<circle cx="779.4" cy="612.3" r="0.7" fill="#fff"/><circle cx="788.6" cy="612.3" r="0.7" fill="#fff"/>
<circle cx="779.4" cy="624.9" r="0.7" fill="#fff"/><circle cx="788.6" cy="624.9" r="0.7" fill="#fff"/>
<circle cx="779.4" cy="637.5" r="0.7" fill="#fff"/><circle cx="788.6" cy="637.5" r="0.7" fill="#fff"/>
<path d="M808.3,597.0 L810.60,597.00 L811.40,601.00 L813.10,607.00 L813.36,608.60 L814.24,609.90 L814.40,611.20 L814.24,612.50 L813.36,613.80 L812.74,617.50 L813.36,621.20 L814.24,622.50 L814.40,623.80 L814.24,625.10 L813.36,626.40 L812.74,630.10 L813.36,633.80 L814.24,635.10 L814.40,636.40 L814.24,637.70 L813.36,639.00 L812.74,642.70 L813.36,646.40 L814.24,647.70 L814.40,649.00 L814.24,650.30 L813.36,651.60 L812.06,655.00 L810.80,659.20 L810.10,660.00 L808.30,660.00 L807.60,659.20 L806.34,655.00 L805.04,651.60 L804.16,650.30 L804.00,649.00 L804.16,647.70 L805.04,646.40 L805.66,642.70 L805.04,639.00 L804.16,637.70 L804.00,636.40 L804.16,635.10 L805.04,633.80 L805.66,630.10 L805.04,626.40 L804.16,625.10 L804.00,623.80 L804.16,622.50 L805.04,621.20 L805.66,617.50 L805.04,613.80 L804.16,612.50 L804.00,611.20 L804.16,609.90 L805.04,608.60 L805.30,607.00 L807.00,601.00 L807.80,597.00 Z" fill="#000" stroke="#000" stroke-width="0.60" stroke-linejoin="round"/>
<line x1="809.2" y1="594.0" x2="809.2" y2="597.5" stroke="#3c3" stroke-width="1.60"/>
<line x1="809.2" y1="611.0" x2="809.2" y2="657.0" stroke="#ddd" stroke-width="0.9"/>
<line x1="809.2" y1="597.5" x2="809.2" y2="602.0" stroke="#ee0" stroke-width="2"/>
<line x1="809.2" y1="606.0" x2="809.2" y2="614.0" stroke="#ee0" stroke-width="2"/>
<line x1="809.2" y1="624.1" x2="809.2" y2="628.1" stroke="#ee0" stroke-width="1.8"/>
<line x1="809.2" y1="636.7" x2="809.2" y2="640.7" stroke="#ee0" stroke-width="1.8"/>
<circle cx="804.6" cy="611.2" r="0.7" fill="#fff"/><circle cx="813.8" cy="611.2" r="0.7" fill="#fff"/>
<circle cx="804.6" cy="623.8" r="0.7" fill="#fff"/><circle cx="813.8" cy="623.8" r="0.7" fill="#fff"/>
<circle cx="804.6" cy="636.4" r="0.7" fill="#fff"/><circle cx="813.8" cy="636.4" r="0.7" fill="#fff"/>
<circle cx="804.6" cy="649.0" r="0.7" fill="#fff"/><circle cx="813.8" cy="649.0" r="0.7" fill="#fff"/>
<path d="M833.0,606.0 L835.30,606.00 L836.10,610.00 L837.80,616.00 L838.06,617.60 L838.94,618.90 L839.10,620.20 L838.94,621.50 L838.06,622.80 L837.44,626.50 L838.06,630.20 L838.94,631.50 L839.10,632.80 L838.94,634.10 L838.06,635.40 L837.44,639.10 L838.06,642.80 L838.94,644.10 L839.10,645.40 L838.94,646.70 L838.06,648.00 L837.44,651.70 L838.06,655.40 L838.94,656.70 L839.10,658.00 L838.94,659.30 L838.06,660.60 L836.76,664.00 L835.50,668.20 L834.80,669.00 L833.00,669.00 L832.30,668.20 L831.04,664.00 L829.74,660.60 L828.86,659.30 L828.70,658.00 L828.86,656.70 L829.74,655.40 L830.36,651.70 L829.74,648.00 L828.86,646.70 L828.70,645.40 L828.86,644.10 L829.74,642.80 L830.36,639.10 L829.74,635.40 L828.86,634.10 L828.70,632.80 L828.86,631.50 L829.74,630.20 L830.36,626.50 L829.74,622.80 L828.86,621.50 L828.70,620.20 L828.86,618.90 L829.74,617.60 L830.00,616.00 L831.70,610.00 L832.50,606.00 Z" fill="#000" stroke="#000" stroke-width="0.60" stroke-linejoin="round"/>
<line x1="833.9" y1="603.0" x2="833.9" y2="606.5" stroke="#3c3" stroke-width="1.60"/>
<line x1="833.9" y1="620.0" x2="833.9" y2="666.0" stroke="#ddd" stroke-width="0.9"/>
<line x1="833.9" y1="606.5" x2="833.9" y2="611.0" stroke="#ee0" stroke-width="2"/>
<line x1="833.9" y1="615.0" x2="833.9" y2="623.0" stroke="#ee0" stroke-width="2"/>
<line x1="833.9" y1="633.1" x2="833.9" y2="637.1" stroke="#ee0" stroke-width="1.8"/>
<line x1="833.9" y1="645.7" x2="833.9" y2="649.7" stroke="#ee0" stroke-width="1.8"/>
<circle cx="829.3" cy="620.2" r="0.7" fill="#fff"/><circle cx="838.5" cy="620.2" r="0.7" fill="#fff"/>
<circle cx="829.3" cy="632.8" r="0.7" fill="#fff"/><circle cx="838.5" cy="632.8" r="0.7" fill="#fff"/>
<circle cx="829.3" cy="645.4" r="0.7" fill="#fff"/><circle cx="838.5" cy="645.4" r="0.7" fill="#fff"/>
<circle cx="829.3" cy="658.0" r="0.7" fill="#fff"/><circle cx="838.5" cy="658.0" r="0.7" fill="#fff"/>
<path d="M858.7,613.0 L861.00,613.00 L861.80,617.00 L863.50,623.00 L863.76,624.60 L864.64,625.90 L864.80,627.20 L864.64,628.50 L863.76,629.80 L863.14,633.50 L863.76,637.20 L864.64,638.50 L864.80,639.80 L864.64,641.10 L863.76,642.40 L863.14,646.10 L863.76,649.80 L864.64,651.10 L864.80,652.40 L864.64,653.70 L863.76,655.00 L863.14,658.70 L863.76,662.40 L864.64,663.70 L864.80,665.00 L864.64,666.30 L863.76,667.60 L862.46,671.00 L861.20,675.20 L860.50,676.00 L858.70,676.00 L858.00,675.20 L856.74,671.00 L855.44,667.60 L854.56,666.30 L854.40,665.00 L854.56,663.70 L855.44,662.40 L856.06,658.70 L855.44,655.00 L854.56,653.70 L854.40,652.40 L854.56,651.10 L855.44,649.80 L856.06,646.10 L855.44,642.40 L854.56,641.10 L854.40,639.80 L854.56,638.50 L855.44,637.20 L856.06,633.50 L855.44,629.80 L854.56,628.50 L854.40,627.20 L854.56,625.90 L855.44,624.60 L855.70,623.00 L857.40,617.00 L858.20,613.00 Z" fill="#000" stroke="#000" stroke-width="0.60" stroke-linejoin="round"/>
<line x1="859.6" y1="610.0" x2="859.6" y2="613.5" stroke="#3c3" stroke-width="1.60"/>
<line x1="859.6" y1="627.0" x2="859.6" y2="673.0" stroke="#ddd" stroke-width="0.9"/>
<line x1="859.6" y1="613.5" x2="859.6" y2="618.0" stroke="#ee0" stroke-width="2"/>
<line x1="859.6" y1="622.0" x2="859.6" y2="630.0" stroke="#ee0" stroke-width="2"/>
<line x1="859.6" y1="640.1" x2="859.6" y2="644.1" stroke="#ee0" stroke-width="1.8"/>
<line x1="859.6" y1="652.7" x2="859.6" y2="656.7" stroke="#ee0" stroke-width="1.8"/>
<circle cx="855.0" cy="627.2" r="0.7" fill="#fff"/><circle cx="864.2" cy="627.2" r="0.7" fill="#fff"/>
<circle cx="855.0" cy="639.8" r="0.7" fill="#fff"/><circle cx="864.2" cy="639.8" r="0.7" fill="#fff"/>
<circle cx="855.0" cy="652.4" r="0.7" fill="#fff"/><circle cx="864.2" cy="652.4" r="0.7" fill="#fff"/>
<circle cx="855.0" cy="665.0" r="0.7" fill="#fff"/><circle cx="864.2" cy="665.0" r="0.7" fill="#fff"/>
<path d="M884.1,615.0 L886.40,615.00 L887.20,619.00 L888.90,625.00 L889.16,626.60 L890.04,627.90 L890.20,629.20 L890.04,630.50 L889.16,631.80 L888.54,635.50 L889.16,639.20 L890.04,640.50 L890.20,641.80 L890.04,643.10 L889.16,644.40 L888.54,648.10 L889.16,651.80 L890.04,653.10 L890.20,654.40 L890.04,655.70 L889.16,657.00 L888.54,660.70 L889.16,664.40 L890.04,665.70 L890.20,667.00 L890.04,668.30 L889.16,669.60 L887.86,675.00 L886.60,679.20 L885.90,680.00 L884.10,680.00 L883.40,679.20 L882.14,675.00 L880.84,669.60 L879.96,668.30 L879.80,667.00 L879.96,665.70 L880.84,664.40 L881.46,660.70 L880.84,657.00 L879.96,655.70 L879.80,654.40 L879.96,653.10 L880.84,651.80 L881.46,648.10 L880.84,644.40 L879.96,643.10 L879.80,641.80 L879.96,640.50 L880.84,639.20 L881.46,635.50 L880.84,631.80 L879.96,630.50 L879.80,629.20 L879.96,627.90 L880.84,626.60 L881.10,625.00 L882.80,619.00 L883.60,615.00 Z" fill="#000" stroke="#000" stroke-width="0.60" stroke-linejoin="round"/>
<line x1="885.0" y1="612.0" x2="885.0" y2="615.5" stroke="#3c3" stroke-width="1.60"/>
<line x1="885.0" y1="629.0" x2="885.0" y2="677.0" stroke="#ddd" stroke-width="0.9"/>
<line x1="885.0" y1="615.5" x2="885.0" y2="620.0" stroke="#ee0" stroke-width="2"/>
<line x1="885.0" y1="624.0" x2="885.0" y2="632.0" stroke="#ee0" stroke-width="2"/>
<line x1="885.0" y1="642.1" x2="885.0" y2="646.1" stroke="#ee0" stroke-width="1.8"/>
<line x1="885.0" y1="654.7" x2="885.0" y2="658.7" stroke="#ee0" stroke-width="1.8"/>
<circle cx="880.4" cy="629.2" r="0.7" fill="#fff"/><circle cx="889.6" cy="629.2" r="0.7" fill="#fff"/>
<circle cx="880.4" cy="641.8" r="0.7" fill="#fff"/><circle cx="889.6" cy="641.8" r="0.7" fill="#fff"/>
<circle cx="880.4" cy="654.4" r="0.7" fill="#fff"/><circle cx="889.6" cy="654.4" r="0.7" fill="#fff"/>
<circle cx="880.4" cy="667.0" r="0.7" fill="#fff"/><circle cx="889.6" cy="667.0" r="0.7" fill="#fff"/>
<g transform="translate(1819.0,0) scale(-1,1)"><polyline points="709.4,502 709.4,496.5 717.4,496.5 735.5,513.2 735.5,524" fill="none" stroke="#111" stroke-width="1.90"/>
<polyline points="710,513 710,509.6 715.2,508.6 735.5,523.3 735.5,527.5" fill="none" stroke="#f22" stroke-width="2.10"/>
<line x1="735.5" y1="527.5" x2="735.5" y2="532" stroke="#3c3" stroke-width="2.00"/>
<line x1="735.5" y1="532" x2="735.5" y2="548" stroke="#ee0" stroke-width="2.20"/>
<line x1="735.5" y1="548" x2="735.5" y2="550.5" stroke="#3c3" stroke-width="2.00"/>
<rect x="735.5" y="528" width="15.5" height="2.8" fill="none" stroke="#d5d" stroke-width="1.00"/>
<rect x="745" y="528.3" width="3" height="2.2" fill="#000"/>
<path d="M741.3,534 L741.3,530.3 L897.4,530.3 Q899,530.3 899,533.9 M745,533.9 L865.4,533.9" fill="none" stroke="#111" stroke-width="1.20"/>
<line x1="746.4" y1="529.5" x2="746.4" y2="534.5" stroke="#f22" stroke-width="1.00"/>
<line x1="813" y1="529.5" x2="813" y2="534.5" stroke="#f22" stroke-width="1.00"/>
<line x1="872" y1="529.5" x2="872" y2="534.5" stroke="#f22" stroke-width="1.00"/>
<line x1="892.9" y1="529.5" x2="892.9" y2="534.5" stroke="#f22" stroke-width="1.00"/>
<path d="M813.8,541.4 L865.4,541.4 M813.8,547.2 L865.4,547.2" fill="none" stroke="#111" stroke-width="1.10"/>
<path d="M811.6,532.8 L811.6,596.5 M814.5,532.8 L814.5,596.5" fill="none" stroke="#d5d" stroke-width="1.30"/>
<g transform="translate(744.9,544.3) rotate(0.0)" fill="none" stroke="#000" stroke-width="1.00">
<path d="M0,0 C8,-6 20,-7.5 30.5,-7.2 L30.5,7.3 C20,7.5 8,6 0,0 Z" fill="#fff"/>
<path d="M30.5,-7.2 L41.3,-9 L41.3,9 L30.5,7.3" fill="#fff"/>
<rect x="41.3" y="-7" width="27" height="14" fill="#fff"/>
<rect x="42.5" y="-4.3" width="13" height="8.5" rx="3"/>
<line x1="35" y1="0" x2="42.5" y2="0"/>
<rect x="13.1" y="-1.8" width="14.5" height="3.6" fill="#f22" stroke="#c00" stroke-width="0.50"/>
<path d="M15,0 L26,0" stroke="#fcc" stroke-width="1" stroke-dasharray="1.2 1"/>
<circle cx="11" cy="0" r="2.3" fill="#000"/>
</g>
<g transform="translate(798.6,584.2) rotate(-16.2)" fill="none" stroke="#000" stroke-width="1.00">
<path d="M0,0 C8,-6 20,-7.5 30.5,-7.2 L30.5,7.3 C20,7.5 8,6 0,0 Z" fill="#fff"/>
<path d="M30.5,-7.2 L41.3,-9 L41.3,9 L30.5,7.3" fill="#fff"/>
<rect x="41.3" y="-7" width="27" height="14" fill="#fff"/>
<rect x="42.5" y="-4.3" width="13" height="8.5" rx="3"/>
<line x1="35" y1="0" x2="42.5" y2="0"/>
<rect x="13.1" y="-1.8" width="14.5" height="3.6" fill="#f22" stroke="#c00" stroke-width="0.50"/>
<path d="M15,0 L26,0" stroke="#fcc" stroke-width="1" stroke-dasharray="1.2 1"/>
<circle cx="11" cy="0" r="2.3" fill="#000"/>
</g>
<rect x="-3" y="-3.5" width="6" height="7" fill="#000" transform="translate(866.5,564.8) rotate(-16.2)"/>
<line x1="735.5" y1="550.1" x2="785.5" y2="581.3" stroke="#111" stroke-width="2.60"/>
<polyline points="811.6,596.5 884,611.8 909.5,611.8" fill="none" stroke="#111" stroke-width="2.40"/>
<line x1="812.5" y1="596.7" x2="883" y2="611.6" stroke="#fff" stroke-width="0.8" stroke-dasharray="1.2 2"/>
<path d="M869,555 L869,568 Q869,570.7 872,570.7 L875.7,570.7 L875.7,555 M877.5,555 L877.5,570.7 M882.3,555 L882.3,570.7" fill="none" stroke="#111" stroke-width="1.10"/>
<g transform="translate(872.7,603.3) rotate(-32.5)" fill="none" stroke="#000" stroke-width="1.00">
<path d="M0,0 C8,-6 20,-7.5 30.5,-7.2 L30.5,7.3 C20,7.5 8,6 0,0 Z" fill="#fff"/>
<path d="M30.5,-7.2 L41.3,-9 L41.3,9 L30.5,7.3" fill="#fff"/>
<rect x="41.3" y="-7" width="27" height="14" fill="#fff"/>
<rect x="42.5" y="-4.3" width="13" height="8.5" rx="3"/>
<line x1="35" y1="0" x2="42.5" y2="0"/>
<rect x="13.1" y="-1.8" width="14.5" height="3.6" fill="#f22" stroke="#c00" stroke-width="0.50"/>
<path d="M15,0 L26,0" stroke="#fcc" stroke-width="1" stroke-dasharray="1.2 1"/>
<circle cx="11" cy="0" r="2.3" fill="#000"/>
</g>
<rect x="-3" y="-3.5" width="6" height="7" fill="#000" transform="translate(930,567) rotate(-32.5)"/>
<path d="M709.1,502.0 L711.40,502.00 L712.20,506.00 L713.90,512.00 L714.16,513.60 L715.04,514.90 L715.20,516.20 L715.04,517.50 L714.16,518.80 L713.54,522.28 L714.16,525.76 L715.04,527.06 L715.20,528.36 L715.04,529.66 L714.16,530.96 L713.54,534.44 L714.16,537.92 L715.04,539.22 L715.20,540.52 L715.04,541.82 L714.16,543.12 L713.54,546.60 L714.16,550.08 L715.04,551.38 L715.20,552.68 L715.04,553.98 L714.16,555.28 L713.54,558.76 L714.16,562.24 L715.04,563.54 L715.20,564.84 L715.04,566.14 L714.16,567.44 L713.54,570.92 L714.16,574.40 L715.04,575.70 L715.20,577.00 L715.04,578.30 L714.16,579.60 L712.86,583.00 L711.60,587.20 L710.90,588.00 L709.10,588.00 L708.40,587.20 L707.14,583.00 L705.84,579.60 L704.96,578.30 L704.80,577.00 L704.96,575.70 L705.84,574.40 L706.46,570.92 L705.84,567.44 L704.96,566.14 L704.80,564.84 L704.96,563.54 L705.84,562.24 L706.46,558.76 L705.84,555.28 L704.96,553.98 L704.80,552.68 L704.96,551.38 L705.84,550.08 L706.46,546.60 L705.84,543.12 L704.96,541.82 L704.80,540.52 L704.96,539.22 L705.84,537.92 L706.46,534.44 L705.84,530.96 L704.96,529.66 L704.80,528.36 L704.96,527.06 L705.84,525.76 L706.46,522.28 L705.84,518.80 L704.96,517.50 L704.80,516.20 L704.96,514.90 L705.84,513.60 L706.10,512.00 L707.80,506.00 L708.60,502.00 Z" fill="#000" stroke="#000" stroke-width="0.60" stroke-linejoin="round"/>
<line x1="710.0" y1="499.0" x2="710.0" y2="502.5" stroke="#3c3" stroke-width="1.60"/>
<line x1="710.0" y1="516.0" x2="710.0" y2="585.0" stroke="#ddd" stroke-width="0.9"/>
<line x1="710.0" y1="502.5" x2="710.0" y2="507.0" stroke="#ee0" stroke-width="2"/>
<line x1="710.0" y1="511.0" x2="710.0" y2="519.0" stroke="#ee0" stroke-width="2"/>
<line x1="710.0" y1="528.7" x2="710.0" y2="532.7" stroke="#ee0" stroke-width="1.8"/>
<line x1="710.0" y1="540.8" x2="710.0" y2="544.8" stroke="#ee0" stroke-width="1.8"/>
<line x1="710.0" y1="553.0" x2="710.0" y2="557.0" stroke="#ee0" stroke-width="1.8"/>
<line x1="710.0" y1="565.1" x2="710.0" y2="569.1" stroke="#ee0" stroke-width="1.8"/>
<circle cx="705.4" cy="516.2" r="0.7" fill="#fff"/><circle cx="714.6" cy="516.2" r="0.7" fill="#fff"/>
<circle cx="705.4" cy="528.4" r="0.7" fill="#fff"/><circle cx="714.6" cy="528.4" r="0.7" fill="#fff"/>
<circle cx="705.4" cy="540.5" r="0.7" fill="#fff"/><circle cx="714.6" cy="540.5" r="0.7" fill="#fff"/>
<circle cx="705.4" cy="552.7" r="0.7" fill="#fff"/><circle cx="714.6" cy="552.7" r="0.7" fill="#fff"/>
<circle cx="705.4" cy="564.8" r="0.7" fill="#fff"/><circle cx="714.6" cy="564.8" r="0.7" fill="#fff"/>
<circle cx="705.4" cy="577.0" r="0.7" fill="#fff"/><circle cx="714.6" cy="577.0" r="0.7" fill="#fff"/>
<path d="M733.4,550.5 L735.70,550.50 L736.50,554.50 L738.20,560.50 L738.46,562.10 L739.34,563.40 L739.50,564.70 L739.34,566.00 L738.46,567.30 L737.84,571.00 L738.46,574.70 L739.34,576.00 L739.50,577.30 L739.34,578.60 L738.46,579.90 L737.84,583.60 L738.46,587.30 L739.34,588.60 L739.50,589.90 L739.34,591.20 L738.46,592.50 L737.84,596.20 L738.46,599.90 L739.34,601.20 L739.50,602.50 L739.34,603.80 L738.46,605.10 L737.16,608.50 L735.90,612.70 L735.20,613.50 L733.40,613.50 L732.70,612.70 L731.44,608.50 L730.14,605.10 L729.26,603.80 L729.10,602.50 L729.26,601.20 L730.14,599.90 L730.76,596.20 L730.14,592.50 L729.26,591.20 L729.10,589.90 L729.26,588.60 L730.14,587.30 L730.76,583.60 L730.14,579.90 L729.26,578.60 L729.10,577.30 L729.26,576.00 L730.14,574.70 L730.76,571.00 L730.14,567.30 L729.26,566.00 L729.10,564.70 L729.26,563.40 L730.14,562.10 L730.40,560.50 L732.10,554.50 L732.90,550.50 Z" fill="#000" stroke="#000" stroke-width="0.60" stroke-linejoin="round"/>
<line x1="734.3" y1="547.5" x2="734.3" y2="551.0" stroke="#3c3" stroke-width="1.60"/>
<line x1="734.3" y1="564.5" x2="734.3" y2="610.5" stroke="#ddd" stroke-width="0.9"/>
<line x1="734.3" y1="551.0" x2="734.3" y2="555.5" stroke="#ee0" stroke-width="2"/>
<line x1="734.3" y1="559.5" x2="734.3" y2="567.5" stroke="#ee0" stroke-width="2"/>
<line x1="734.3" y1="577.6" x2="734.3" y2="581.6" stroke="#ee0" stroke-width="1.8"/>
<line x1="734.3" y1="590.2" x2="734.3" y2="594.2" stroke="#ee0" stroke-width="1.8"/>
<circle cx="729.7" cy="564.7" r="0.7" fill="#fff"/><circle cx="738.9" cy="564.7" r="0.7" fill="#fff"/>
<circle cx="729.7" cy="577.3" r="0.7" fill="#fff"/><circle cx="738.9" cy="577.3" r="0.7" fill="#fff"/>
<circle cx="729.7" cy="589.9" r="0.7" fill="#fff"/><circle cx="738.9" cy="589.9" r="0.7" fill="#fff"/>
<circle cx="729.7" cy="602.5" r="0.7" fill="#fff"/><circle cx="738.9" cy="602.5" r="0.7" fill="#fff"/>
<path d="M758.4,571.5 L760.70,571.50 L761.50,575.50 L763.20,581.50 L763.46,583.10 L764.34,584.40 L764.50,585.70 L764.34,587.00 L763.46,588.30 L762.84,592.00 L763.46,595.70 L764.34,597.00 L764.50,598.30 L764.34,599.60 L763.46,600.90 L762.84,604.60 L763.46,608.30 L764.34,609.60 L764.50,610.90 L764.34,612.20 L763.46,613.50 L762.84,617.20 L763.46,620.90 L764.34,622.20 L764.50,623.50 L764.34,624.80 L763.46,626.10 L762.16,629.50 L760.90,633.70 L760.20,634.50 L758.40,634.50 L757.70,633.70 L756.44,629.50 L755.14,626.10 L754.26,624.80 L754.10,623.50 L754.26,622.20 L755.14,620.90 L755.76,617.20 L755.14,613.50 L754.26,612.20 L754.10,610.90 L754.26,609.60 L755.14,608.30 L755.76,604.60 L755.14,600.90 L754.26,599.60 L754.10,598.30 L754.26,597.00 L755.14,595.70 L755.76,592.00 L755.14,588.30 L754.26,587.00 L754.10,585.70 L754.26,584.40 L755.14,583.10 L755.40,581.50 L757.10,575.50 L757.90,571.50 Z" fill="#000" stroke="#000" stroke-width="0.60" stroke-linejoin="round"/>
<line x1="759.3" y1="568.5" x2="759.3" y2="572.0" stroke="#3c3" stroke-width="1.60"/>
<line x1="759.3" y1="585.5" x2="759.3" y2="631.5" stroke="#ddd" stroke-width="0.9"/>
<line x1="759.3" y1="572.0" x2="759.3" y2="576.5" stroke="#ee0" stroke-width="2"/>
<line x1="759.3" y1="580.5" x2="759.3" y2="588.5" stroke="#ee0" stroke-width="2"/>
<line x1="759.3" y1="598.6" x2="759.3" y2="602.6" stroke="#ee0" stroke-width="1.8"/>
<line x1="759.3" y1="611.2" x2="759.3" y2="615.2" stroke="#ee0" stroke-width="1.8"/>
<circle cx="754.7" cy="585.7" r="0.7" fill="#fff"/><circle cx="763.9" cy="585.7" r="0.7" fill="#fff"/>
<circle cx="754.7" cy="598.3" r="0.7" fill="#fff"/><circle cx="763.9" cy="598.3" r="0.7" fill="#fff"/>
<circle cx="754.7" cy="610.9" r="0.7" fill="#fff"/><circle cx="763.9" cy="610.9" r="0.7" fill="#fff"/>
<circle cx="754.7" cy="623.5" r="0.7" fill="#fff"/><circle cx="763.9" cy="623.5" r="0.7" fill="#fff"/>
<path d="M783.1,585.5 L785.40,585.50 L786.20,589.50 L787.90,595.50 L788.16,597.10 L789.04,598.40 L789.20,599.70 L789.04,601.00 L788.16,602.30 L787.54,606.00 L788.16,609.70 L789.04,611.00 L789.20,612.30 L789.04,613.60 L788.16,614.90 L787.54,618.60 L788.16,622.30 L789.04,623.60 L789.20,624.90 L789.04,626.20 L788.16,627.50 L787.54,631.20 L788.16,634.90 L789.04,636.20 L789.20,637.50 L789.04,638.80 L788.16,640.10 L786.86,643.50 L785.60,647.70 L784.90,648.50 L783.10,648.50 L782.40,647.70 L781.14,643.50 L779.84,640.10 L778.96,638.80 L778.80,637.50 L778.96,636.20 L779.84,634.90 L780.46,631.20 L779.84,627.50 L778.96,626.20 L778.80,624.90 L778.96,623.60 L779.84,622.30 L780.46,618.60 L779.84,614.90 L778.96,613.60 L778.80,612.30 L778.96,611.00 L779.84,609.70 L780.46,606.00 L779.84,602.30 L778.96,601.00 L778.80,599.70 L778.96,598.40 L779.84,597.10 L780.10,595.50 L781.80,589.50 L782.60,585.50 Z" fill="#000" stroke="#000" stroke-width="0.60" stroke-linejoin="round"/>
<line x1="784.0" y1="582.5" x2="784.0" y2="586.0" stroke="#3c3" stroke-width="1.60"/>
<line x1="784.0" y1="599.5" x2="784.0" y2="645.5" stroke="#ddd" stroke-width="0.9"/>
<line x1="784.0" y1="586.0" x2="784.0" y2="590.5" stroke="#ee0" stroke-width="2"/>
<line x1="784.0" y1="594.5" x2="784.0" y2="602.5" stroke="#ee0" stroke-width="2"/>
<line x1="784.0" y1="612.6" x2="784.0" y2="616.6" stroke="#ee0" stroke-width="1.8"/>
<line x1="784.0" y1="625.2" x2="784.0" y2="629.2" stroke="#ee0" stroke-width="1.8"/>
<circle cx="779.4" cy="599.7" r="0.7" fill="#fff"/><circle cx="788.6" cy="599.7" r="0.7" fill="#fff"/>
<circle cx="779.4" cy="612.3" r="0.7" fill="#fff"/><circle cx="788.6" cy="612.3" r="0.7" fill="#fff"/>
<circle cx="779.4" cy="624.9" r="0.7" fill="#fff"/><circle cx="788.6" cy="624.9" r="0.7" fill="#fff"/>
<circle cx="779.4" cy="637.5" r="0.7" fill="#fff"/><circle cx="788.6" cy="637.5" r="0.7" fill="#fff"/>
<path d="M808.3,597.0 L810.60,597.00 L811.40,601.00 L813.10,607.00 L813.36,608.60 L814.24,609.90 L814.40,611.20 L814.24,612.50 L813.36,613.80 L812.74,617.50 L813.36,621.20 L814.24,622.50 L814.40,623.80 L814.24,625.10 L813.36,626.40 L812.74,630.10 L813.36,633.80 L814.24,635.10 L814.40,636.40 L814.24,637.70 L813.36,639.00 L812.74,642.70 L813.36,646.40 L814.24,647.70 L814.40,649.00 L814.24,650.30 L813.36,651.60 L812.06,655.00 L810.80,659.20 L810.10,660.00 L808.30,660.00 L807.60,659.20 L806.34,655.00 L805.04,651.60 L804.16,650.30 L804.00,649.00 L804.16,647.70 L805.04,646.40 L805.66,642.70 L805.04,639.00 L804.16,637.70 L804.00,636.40 L804.16,635.10 L805.04,633.80 L805.66,630.10 L805.04,626.40 L804.16,625.10 L804.00,623.80 L804.16,622.50 L805.04,621.20 L805.66,617.50 L805.04,613.80 L804.16,612.50 L804.00,611.20 L804.16,609.90 L805.04,608.60 L805.30,607.00 L807.00,601.00 L807.80,597.00 Z" fill="#000" stroke="#000" stroke-width="0.60" stroke-linejoin="round"/>
<line x1="809.2" y1="594.0" x2="809.2" y2="597.5" stroke="#3c3" stroke-width="1.60"/>
<line x1="809.2" y1="611.0" x2="809.2" y2="657.0" stroke="#ddd" stroke-width="0.9"/>
<line x1="809.2" y1="597.5" x2="809.2" y2="602.0" stroke="#ee0" stroke-width="2"/>
<line x1="809.2" y1="606.0" x2="809.2" y2="614.0" stroke="#ee0" stroke-width="2"/>
<line x1="809.2" y1="624.1" x2="809.2" y2="628.1" stroke="#ee0" stroke-width="1.8"/>
<line x1="809.2" y1="636.7" x2="809.2" y2="640.7" stroke="#ee0" stroke-width="1.8"/>
<circle cx="804.6" cy="611.2" r="0.7" fill="#fff"/><circle cx="813.8" cy="611.2" r="0.7" fill="#fff"/>
<circle cx="804.6" cy="623.8" r="0.7" fill="#fff"/><circle cx="813.8" cy="623.8" r="0.7" fill="#fff"/>
<circle cx="804.6" cy="636.4" r="0.7" fill="#fff"/><circle cx="813.8" cy="636.4" r="0.7" fill="#fff"/>
<circle cx="804.6" cy="649.0" r="0.7" fill="#fff"/><circle cx="813.8" cy="649.0" r="0.7" fill="#fff"/>
<path d="M833.0,606.0 L835.30,606.00 L836.10,610.00 L837.80,616.00 L838.06,617.60 L838.94,618.90 L839.10,620.20 L838.94,621.50 L838.06,622.80 L837.44,626.50 L838.06,630.20 L838.94,631.50 L839.10,632.80 L838.94,634.10 L838.06,635.40 L837.44,639.10 L838.06,642.80 L838.94,644.10 L839.10,645.40 L838.94,646.70 L838.06,648.00 L837.44,651.70 L838.06,655.40 L838.94,656.70 L839.10,658.00 L838.94,659.30 L838.06,660.60 L836.76,664.00 L835.50,668.20 L834.80,669.00 L833.00,669.00 L832.30,668.20 L831.04,664.00 L829.74,660.60 L828.86,659.30 L828.70,658.00 L828.86,656.70 L829.74,655.40 L830.36,651.70 L829.74,648.00 L828.86,646.70 L828.70,645.40 L828.86,644.10 L829.74,642.80 L830.36,639.10 L829.74,635.40 L828.86,634.10 L828.70,632.80 L828.86,631.50 L829.74,630.20 L830.36,626.50 L829.74,622.80 L828.86,621.50 L828.70,620.20 L828.86,618.90 L829.74,617.60 L830.00,616.00 L831.70,610.00 L832.50,606.00 Z" fill="#000" stroke="#000" stroke-width="0.60" stroke-linejoin="round"/>
<line x1="833.9" y1="603.0" x2="833.9" y2="606.5" stroke="#3c3" stroke-width="1.60"/>
<line x1="833.9" y1="620.0" x2="833.9" y2="666.0" stroke="#ddd" stroke-width="0.9"/>
<line x1="833.9" y1="606.5" x2="833.9" y2="611.0" stroke="#ee0" stroke-width="2"/>
<line x1="833.9" y1="615.0" x2="833.9" y2="623.0" stroke="#ee0" stroke-width="2"/>
<line x1="833.9" y1="633.1" x2="833.9" y2="637.1" stroke="#ee0" stroke-width="1.8"/>
<line x1="833.9" y1="645.7" x2="833.9" y2="649.7" stroke="#ee0" stroke-width="1.8"/>
<circle cx="829.3" cy="620.2" r="0.7" fill="#fff"/><circle cx="838.5" cy="620.2" r="0.7" fill="#fff"/>
<circle cx="829.3" cy="632.8" r="0.7" fill="#fff"/><circle cx="838.5" cy="632.8" r="0.7" fill="#fff"/>
<circle cx="829.3" cy="645.4" r="0.7" fill="#fff"/><circle cx="838.5" cy="645.4" r="0.7" fill="#fff"/>
<circle cx="829.3" cy="658.0" r="0.7" fill="#fff"/><circle cx="838.5" cy="658.0" r="0.7" fill="#fff"/>
<path d="M858.7,613.0 L861.00,613.00 L861.80,617.00 L863.50,623.00 L863.76,624.60 L864.64,625.90 L864.80,627.20 L864.64,628.50 L863.76,629.80 L863.14,633.50 L863.76,637.20 L864.64,638.50 L864.80,639.80 L864.64,641.10 L863.76,642.40 L863.14,646.10 L863.76,649.80 L864.64,651.10 L864.80,652.40 L864.64,653.70 L863.76,655.00 L863.14,658.70 L863.76,662.40 L864.64,663.70 L864.80,665.00 L864.64,666.30 L863.76,667.60 L862.46,671.00 L861.20,675.20 L860.50,676.00 L858.70,676.00 L858.00,675.20 L856.74,671.00 L855.44,667.60 L854.56,666.30 L854.40,665.00 L854.56,663.70 L855.44,662.40 L856.06,658.70 L855.44,655.00 L854.56,653.70 L854.40,652.40 L854.56,651.10 L855.44,649.80 L856.06,646.10 L855.44,642.40 L854.56,641.10 L854.40,639.80 L854.56,638.50 L855.44,637.20 L856.06,633.50 L855.44,629.80 L854.56,628.50 L854.40,627.20 L854.56,625.90 L855.44,624.60 L855.70,623.00 L857.40,617.00 L858.20,613.00 Z" fill="#000" stroke="#000" stroke-width="0.60" stroke-linejoin="round"/>
<line x1="859.6" y1="610.0" x2="859.6" y2="613.5" stroke="#3c3" stroke-width="1.60"/>
<line x1="859.6" y1="627.0" x2="859.6" y2="673.0" stroke="#ddd" stroke-width="0.9"/>
<line x1="859.6" y1="613.5" x2="859.6" y2="618.0" stroke="#ee0" stroke-width="2"/>
<line x1="859.6" y1="622.0" x2="859.6" y2="630.0" stroke="#ee0" stroke-width="2"/>
<line x1="859.6" y1="640.1" x2="859.6" y2="644.1" stroke="#ee0" stroke-width="1.8"/>
<line x1="859.6" y1="652.7" x2="859.6" y2="656.7" stroke="#ee0" stroke-width="1.8"/>
<circle cx="855.0" cy="627.2" r="0.7" fill="#fff"/><circle cx="864.2" cy="627.2" r="0.7" fill="#fff"/>
<circle cx="855.0" cy="639.8" r="0.7" fill="#fff"/><circle cx="864.2" cy="639.8" r="0.7" fill="#fff"/>
<circle cx="855.0" cy="652.4" r="0.7" fill="#fff"/><circle cx="864.2" cy="652.4" r="0.7" fill="#fff"/>
<circle cx="855.0" cy="665.0" r="0.7" fill="#fff"/><circle cx="864.2" cy="665.0" r="0.7" fill="#fff"/>
<path d="M884.1,615.0 L886.40,615.00 L887.20,619.00 L888.90,625.00 L889.16,626.60 L890.04,627.90 L890.20,629.20 L890.04,630.50 L889.16,631.80 L888.54,635.50 L889.16,639.20 L890.04,640.50 L890.20,641.80 L890.04,643.10 L889.16,644.40 L888.54,648.10 L889.16,651.80 L890.04,653.10 L890.20,654.40 L890.04,655.70 L889.16,657.00 L888.54,660.70 L889.16,664.40 L890.04,665.70 L890.20,667.00 L890.04,668.30 L889.16,669.60 L887.86,675.00 L886.60,679.20 L885.90,680.00 L884.10,680.00 L883.40,679.20 L882.14,675.00 L880.84,669.60 L879.96,668.30 L879.80,667.00 L879.96,665.70 L880.84,664.40 L881.46,660.70 L880.84,657.00 L879.96,655.70 L879.80,654.40 L879.96,653.10 L880.84,651.80 L881.46,648.10 L880.84,644.40 L879.96,643.10 L879.80,641.80 L879.96,640.50 L880.84,639.20 L881.46,635.50 L880.84,631.80 L879.96,630.50 L879.80,629.20 L879.96,627.90 L880.84,626.60 L881.10,625.00 L882.80,619.00 L883.60,615.00 Z" fill="#000" stroke="#000" stroke-width="0.60" stroke-linejoin="round"/>
<line x1="885.0" y1="612.0" x2="885.0" y2="615.5" stroke="#3c3" stroke-width="1.60"/>
<line x1="885.0" y1="629.0" x2="885.0" y2="677.0" stroke="#ddd" stroke-width="0.9"/>
<line x1="885.0" y1="615.5" x2="885.0" y2="620.0" stroke="#ee0" stroke-width="2"/>
<line x1="885.0" y1="624.0" x2="885.0" y2="632.0" stroke="#ee0" stroke-width="2"/>
<line x1="885.0" y1="642.1" x2="885.0" y2="646.1" stroke="#ee0" stroke-width="1.8"/>
<line x1="885.0" y1="654.7" x2="885.0" y2="658.7" stroke="#ee0" stroke-width="1.8"/>
<circle cx="880.4" cy="629.2" r="0.7" fill="#fff"/><circle cx="889.6" cy="629.2" r="0.7" fill="#fff"/>
<circle cx="880.4" cy="641.8" r="0.7" fill="#fff"/><circle cx="889.6" cy="641.8" r="0.7" fill="#fff"/>
<circle cx="880.4" cy="654.4" r="0.7" fill="#fff"/><circle cx="889.6" cy="654.4" r="0.7" fill="#fff"/>
<circle cx="880.4" cy="667.0" r="0.7" fill="#fff"/><circle cx="889.6" cy="667.0" r="0.7" fill="#fff"/></g>
<path d="M908.6,615.0 L910.90,615.00 L911.70,619.00 L913.40,625.00 L913.66,626.60 L914.54,627.90 L914.70,629.20 L914.54,630.50 L913.66,631.80 L913.04,635.50 L913.66,639.20 L914.54,640.50 L914.70,641.80 L914.54,643.10 L913.66,644.40 L913.04,648.10 L913.66,651.80 L914.54,653.10 L914.70,654.40 L914.54,655.70 L913.66,657.00 L913.04,660.70 L913.66,664.40 L914.54,665.70 L914.70,667.00 L914.54,668.30 L913.66,669.60 L912.36,675.00 L911.10,679.20 L910.40,680.00 L908.60,680.00 L907.90,679.20 L906.64,675.00 L905.34,669.60 L904.46,668.30 L904.30,667.00 L904.46,665.70 L905.34,664.40 L905.96,660.70 L905.34,657.00 L904.46,655.70 L904.30,654.40 L904.46,653.10 L905.34,651.80 L905.96,648.10 L905.34,644.40 L904.46,643.10 L904.30,641.80 L904.46,640.50 L905.34,639.20 L905.96,635.50 L905.34,631.80 L904.46,630.50 L904.30,629.20 L904.46,627.90 L905.34,626.60 L905.60,625.00 L907.30,619.00 L908.10,615.00 Z" fill="#000" stroke="#000" stroke-width="0.60" stroke-linejoin="round"/>
<line x1="909.5" y1="612.0" x2="909.5" y2="615.5" stroke="#3c3" stroke-width="1.60"/>
<line x1="909.5" y1="629.0" x2="909.5" y2="677.0" stroke="#ddd" stroke-width="0.9"/>
<line x1="909.5" y1="615.5" x2="909.5" y2="620.0" stroke="#ee0" stroke-width="2"/>
<line x1="909.5" y1="624.0" x2="909.5" y2="632.0" stroke="#ee0" stroke-width="2"/>
<line x1="909.5" y1="642.1" x2="909.5" y2="646.1" stroke="#ee0" stroke-width="1.8"/>
<line x1="909.5" y1="654.7" x2="909.5" y2="658.7" stroke="#ee0" stroke-width="1.8"/>
<circle cx="904.9" cy="629.2" r="0.7" fill="#fff"/><circle cx="914.1" cy="629.2" r="0.7" fill="#fff"/>
<circle cx="904.9" cy="641.8" r="0.7" fill="#fff"/><circle cx="914.1" cy="641.8" r="0.7" fill="#fff"/>
<circle cx="904.9" cy="654.4" r="0.7" fill="#fff"/><circle cx="914.1" cy="654.4" r="0.7" fill="#fff"/>
<circle cx="904.9" cy="667.0" r="0.7" fill="#fff"/><circle cx="914.1" cy="667.0" r="0.7" fill="#fff"/>
<rect x="865.4" y="533.9" width="90" height="21.1" fill="#fff" stroke="#111" stroke-width="1.30"/>
</g>
<g stroke="#000" fill="none">
<path d="M259.7,83.7 L321,83.7 M344.3,83.7 L407,83.7" stroke-width="2"/>
<path d="M272.3,82.5 L283.7,71.3 M277.9,82.5 L289.3,71.3 M283.5,82.5 L294.9,71.3 M289.2,82.5 L300.6,71.3 M294.8,82.5 L306.2,71.3 M300.4,82.5 L311.8,71.3 M306.0,82.5 L317.4,71.3 M311.6,82.5 L323.0,71.3 M317.3,82.5 L328.7,71.3 M322.9,82.5 L334.3,71.3 M344.9,82.5 L356.3,71.3 M350.6,82.5 L362.0,71.3 M356.3,82.5 L367.7,71.3 M362.0,82.5 L373.4,71.3 M367.7,82.5 L379.1,71.3 M373.4,82.5 L384.8,71.3 M379.1,82.5 L390.5,71.3 M384.8,82.5 L396.2,71.3 M390.5,82.5 L401.9,71.3 M396.2,82.5 L407.6,71.3 " stroke-width="1.5"/>
</g>
<g fill="none" stroke="#000" stroke-width="1.3">
<path d="M335.1,92.7 L398.2,103.2 C405,100 418,93 444,89.3 C462,89 478,95 488,112 C496,128 493,150 478,166 C466,178 452,181 436,181 C418,181 398,178 388,170 C380,163 377,152 377,141 C378,128 384,120 385,116 C384,112 380,110 376,108.5 L335.1,92.7"/>
<path d="M433.4,135.8 C442,132 452,128.5 462.7,127.2 L466.7,130.5 C460,141 453,147 444,151 C432,156 420,157.5 413.5,157"/>
<path d="M466,129.5 L471,128 M466.5,130.5 L471.5,131 M466,131.5 L470,133.5" stroke-width="0.7"/>
<path d="M424.1,129.2 C435,120 448,108 456.7,99.3 M429.5,131.1 C440,123 452,112 460.7,103.2 M434,137.8 C445,129 458,118 466,110.6"/>
<circle cx="423.5" cy="129.5" r="2" fill="#fff" stroke-width="0.9"/>
<circle cx="428.5" cy="132" r="2" fill="#fff" stroke-width="0.9"/>
<circle cx="433.5" cy="138" r="2" fill="#fff" stroke-width="0.9"/>
<circle cx="397.5" cy="146" r="2" fill="#fff" stroke-width="0.9"/>
<circle cx="402.5" cy="150.5" r="2" fill="#fff" stroke-width="0.9"/>
<circle cx="408" cy="153" r="2" fill="#fff" stroke-width="0.9"/>
</g>
<g transform="translate(414,144) rotate(-28)">
<rect x="-8.5" y="-5.5" width="17" height="11" rx="1.5" fill="#000" stroke="#000" stroke-width="1.2"/>
<rect x="-1" y="5" width="11" height="3.8" fill="#fff" stroke="#000" stroke-width="1"/>
<circle cx="-5.5" cy="-6" r="2" fill="#000"/>
<rect x="-6" y="-3.0" width="1.8" height="1.8" fill="#fff"/>
<rect x="-6" y="1.5" width="1.8" height="1.8" fill="#fff"/>
<circle cx="-0.5" cy="-6" r="2" fill="#000"/>
<rect x="-1" y="-3.0" width="1.8" height="1.8" fill="#fff"/>
<rect x="-1" y="1.5" width="1.8" height="1.8" fill="#fff"/>
<circle cx="4.5" cy="-6" r="2" fill="#000"/>
<rect x="4" y="-3.0" width="1.8" height="1.8" fill="#fff"/>
<rect x="4" y="1.5" width="1.8" height="1.8" fill="#fff"/>
</g>
<path d="M412.2,109.5 L412.2,126.5" stroke="#000" stroke-width="2.4" fill="none"/>
<rect x="410.8" y="108.5" width="2.8" height="6" rx="1.2" fill="#000"/>
<path d="M405.5,126.5 C403,122 406,121 412.2,121 C418.5,121 421.5,122 419,126.5" stroke="#000" stroke-width="2.6" fill="none" stroke-linecap="round"/>
<path d="M337,72.7 C337.5,78 335,85 328,94 C321,101 317,106 321,110 C325,114 331,113.5 337.5,113.2 C342,114 342,118 340.5,123 C337.5,130 334,136 334,148.7" fill="none" stroke="#000" stroke-width="2.4"/>
<rect x="333" y="112" width="6" height="2.5" fill="#000"/>
<path d="M336.8,148 L336.8,158.5 C336.8,167 324.5,167.5 324.5,158" fill="none" stroke="#000" stroke-width="3.4"/>
<path d="M336.8,150 L336.8,158.5 C336.8,167 324.5,167.5 324.5,158" fill="none" stroke="#fff" stroke-width="1.3"/>
<line x1="312.3" y1="148.5" x2="358" y2="148.5" stroke="#000" stroke-width="2.6"/>
<path d="M318.5,138.4 L318.5,154.1 M351,138.4 L351,154.1" stroke="#f11" stroke-width="1.8"/>
<path d="M318.5,119.3 L322.5,124 L322.5,134.6 L314.5,134.6 L314.5,124 Z" fill="#000"/>
<rect x="317.1" y="124.5" width="2.8" height="9.5" fill="#666"/>
<path d="M313.9,125.5 L315.0,126.5 M323.1,125.5 L322.0,126.5 M313.9,127.5 L315.0,128.5 M323.1,127.5 L322.0,128.5 M313.9,129.5 L315.0,130.5 M323.1,129.5 L322.0,130.5 M313.9,131.5 L315.0,132.5 M323.1,131.5 L322.0,132.5 M313.9,133.5 L315.0,134.5 M323.1,133.5 L322.0,134.5 " stroke="#000" stroke-width="0.9"/>
<path d="M351.4,119.3 L355.4,124 L355.4,134.6 L347.4,134.6 L347.4,124 Z" fill="#000"/>
<rect x="350.0" y="124.5" width="2.8" height="9.5" fill="#fff"/>
<path d="M346.79999999999995,125.5 L347.9,126.5 M356.0,125.5 L354.9,126.5 M346.79999999999995,127.5 L347.9,128.5 M356.0,127.5 L354.9,128.5 M346.79999999999995,129.5 L347.9,130.5 M356.0,129.5 L354.9,130.5 M346.79999999999995,131.5 L347.9,132.5 M356.0,131.5 L354.9,132.5 M346.79999999999995,133.5 L347.9,134.5 M356.0,133.5 L354.9,134.5 " stroke="#000" stroke-width="0.9"/>
<path d="M359.6,123 L359.6,137.8" stroke="#000" stroke-width="1.4"/>
<path d="M357.5,125 L359.6,121 L361.7,125 Z" fill="#000" stroke="#000" stroke-width="0.8"/>
<path d="M318.5,156.8 L318.5,170.4" stroke="#000" stroke-width="1.4" stroke-dasharray="1.1 0.9"/>
<path d="M316.9,156.8 L316.9,170.4 M320.1,156.8 L320.1,170.4" stroke="#000" stroke-width="0.6"/>
<path d="M351,157 L351,170.4" stroke="#000" stroke-width="1.6" stroke-dasharray="1.3 0.7"/>
<path d="M398,147 C392,150 387,152 383,158 C378,166 372,170 362,172 C352,174 347,178 344,190 C341,205 340,225 339,242 C338.5,250 337.5,258 336.5,264" fill="none" stroke="#000" stroke-width="3.6"/>
<path d="M398,147 C392,150 387,152 383,158 C378,166 372,170 362,172 C352,174 347,178 344,190 C341,205 340,225 339,242 C338.5,250 337.5,258 336.5,264" fill="none" stroke="#fff" stroke-width="0.8"/>
<path d="M394,148 C389,151 386,154 382.5,159.5 C379,165 374,169 369,171" fill="none" stroke="#3bd" stroke-width="1.6"/>
<path d="M313.9,205 L356.3,205" stroke="#000" stroke-width="2.6"/>
<path d="M317,206 C319,208 320,213 321,218 C322,224 324,229 326,231.7 L343,231.7 C345,229 347,224 348.5,218 C349.5,213 351,208 353,206" fill="none" stroke="#000" stroke-width="1.9"/>
<path d="M329,232.8 L329,227 L335,222 L341,227 L341,232.8 Z" fill="#3c3" stroke="#2a2" stroke-width="0.8"/>
<path d="M335,225 L336,229" stroke="#ff0" stroke-width="1"/>
<rect x="331.3" y="232.8" width="8.7" height="12" fill="#fff" stroke="#2c2" stroke-width="2.6"/>
<rect x="332" y="244.8" width="6" height="8" fill="#000"/>
<rect x="331.8" y="252.6" width="6.6" height="2.6" fill="#fff" stroke="#000" stroke-width="0.8"/>
<path d="M335,255 L335,332" stroke="#000" stroke-width="3.4"/>
<rect x="332" y="255" width="6" height="9" fill="#000"/>
<rect x="330.3" y="264" width="9.4" height="14.5" rx="3.5" fill="#000" stroke="#000" stroke-width="1"/>
<path d="M333.2,267 L333.2,275.5 M336.4,267 L336.4,275.5" stroke="#fff" stroke-width="1"/>
<rect x="330.3" y="289.3" width="9.4" height="14.5" rx="3.5" fill="#000" stroke="#000" stroke-width="1"/>
<path d="M333.2,292.3 L333.2,300.8 M336.4,292.3 L336.4,300.8" stroke="#fff" stroke-width="1"/>
<rect x="330.3" y="311.7" width="9.4" height="14.5" rx="3.5" fill="#000" stroke="#000" stroke-width="1"/>
<path d="M333.2,314.7 L333.2,323.2 M336.4,314.7 L336.4,323.2" stroke="#fff" stroke-width="1"/>
<rect x="331.5" y="327" width="7" height="6" fill="#000"/>
<g fill="none" stroke="#000" stroke-width="1.1">
<path d="M372,240.5 C361,239 357.5,233 363.5,229.8 C371,227 393,227 401,229.8 C407,233 403.5,239 393.5,240.5"/><path d="M372,237.6 C364,236.5 361.5,233.5 366,231.8 C373,229.6 391,229.6 398.5,231.8 C403,233.5 400.5,236.5 393.5,237.6"/><path d="M370.5,234 L376,239.2 L370.5,243.5 Z" fill="#fff"/><path d="M395,234 L389.5,239.2 L395,243.5 Z" fill="#fff"/>
<g transform="translate(0,526) scale(1,-1)"><path d="M372,240.5 C361,239 357.5,233 363.5,229.8 C371,227 393,227 401,229.8 C407,233 403.5,239 393.5,240.5"/><path d="M372,237.6 C364,236.5 361.5,233.5 366,231.8 C373,229.6 391,229.6 398.5,231.8 C403,233.5 400.5,236.5 393.5,237.6"/><path d="M370.5,234 L376,239.2 L370.5,243.5 Z" fill="#fff"/><path d="M395,234 L389.5,239.2 L395,243.5 Z" fill="#fff"/></g>
</g>
<g fill="none" stroke="#000" stroke-width="1.4">
<path d="M382.4,221 L382.4,247.4 M382.4,280 L382.4,306"/>
<path d="M379.6,222 L382.4,213.3 L385.2,222 Z M379.6,305.5 L382.4,314.7 L385.2,305.5 Z" fill="#fff" stroke-width="1.2"/>
</g>
<g transform="translate(-131.97,60.10) scale(0.513)">
<polyline points="709.4,502 709.4,496.5 717.4,496.5 735.5,513.2 735.5,524" fill="none" stroke="#111" stroke-width="4.94"/>
<polyline points="710,513 710,509.6 715.2,508.6 735.5,523.3 735.5,527.5" fill="none" stroke="#f22" stroke-width="5.46"/>
<line x1="735.5" y1="527.5" x2="735.5" y2="532" stroke="#3c3" stroke-width="5.20"/>
<line x1="735.5" y1="532" x2="735.5" y2="548" stroke="#ee0" stroke-width="5.72"/>
<line x1="735.5" y1="548" x2="735.5" y2="550.5" stroke="#3c3" stroke-width="5.20"/>
<rect x="735.5" y="528" width="15.5" height="2.8" fill="none" stroke="#d5d" stroke-width="2.60"/>
<rect x="745" y="528.3" width="3" height="2.2" fill="#000"/>
<path d="M741.3,534 L741.3,530.3 L897.4,530.3 Q899,530.3 899,533.9 M745,533.9 L865.4,533.9" fill="none" stroke="#111" stroke-width="3.12"/>
<line x1="746.4" y1="529.5" x2="746.4" y2="534.5" stroke="#f22" stroke-width="2.60"/>
<line x1="813" y1="529.5" x2="813" y2="534.5" stroke="#f22" stroke-width="2.60"/>
<line x1="872" y1="529.5" x2="872" y2="534.5" stroke="#f22" stroke-width="2.60"/>
<line x1="892.9" y1="529.5" x2="892.9" y2="534.5" stroke="#f22" stroke-width="2.60"/>
<path d="M813.8,541.4 L865.4,541.4 M813.8,547.2 L865.4,547.2" fill="none" stroke="#111" stroke-width="2.86"/>
<path d="M811.6,532.8 L811.6,596.5 M814.5,532.8 L814.5,596.5" fill="none" stroke="#d5d" stroke-width="3.38"/>
<g transform="translate(744.9,544.3) rotate(0.0)" fill="none" stroke="#000" stroke-width="2.60">
<path d="M0,0 C8,-6 20,-7.5 30.5,-7.2 L30.5,7.3 C20,7.5 8,6 0,0 Z" fill="#fff"/>
<path d="M30.5,-7.2 L41.3,-9 L41.3,9 L30.5,7.3" fill="#fff"/>
<rect x="41.3" y="-7" width="27" height="14" fill="#fff"/>
<rect x="42.5" y="-4.3" width="13" height="8.5" rx="3"/>
<line x1="35" y1="0" x2="42.5" y2="0"/>
<rect x="13.1" y="-1.8" width="14.5" height="3.6" fill="#f22" stroke="#c00" stroke-width="1.30"/>
<circle cx="11" cy="0" r="2.3" fill="#000"/>
</g>
<g transform="translate(798.6,584.2) rotate(-16.2)" fill="none" stroke="#000" stroke-width="2.60">
<path d="M0,0 C8,-6 20,-7.5 30.5,-7.2 L30.5,7.3 C20,7.5 8,6 0,0 Z" fill="#fff"/>
<path d="M30.5,-7.2 L41.3,-9 L41.3,9 L30.5,7.3" fill="#fff"/>
<rect x="41.3" y="-7" width="27" height="14" fill="#fff"/>
<rect x="42.5" y="-4.3" width="13" height="8.5" rx="3"/>
<line x1="35" y1="0" x2="42.5" y2="0"/>
<rect x="13.1" y="-1.8" width="14.5" height="3.6" fill="#f22" stroke="#c00" stroke-width="1.30"/>
<circle cx="11" cy="0" r="2.3" fill="#000"/>
</g>
<rect x="-3" y="-3.5" width="6" height="7" fill="#000" transform="translate(866.5,564.8) rotate(-16.2)"/>
<line x1="735.5" y1="550.1" x2="785.5" y2="581.3" stroke="#111" stroke-width="5.07"/>
<polyline points="811.6,596.5 884,611.8 909.5,611.8" fill="none" stroke="#111" stroke-width="6.24"/>
<path d="M869,555 L869,568 Q869,570.7 872,570.7 L875.7,570.7 L875.7,555 M877.5,555 L877.5,570.7 M882.3,555 L882.3,570.7" fill="none" stroke="#111" stroke-width="2.86"/>
<g transform="translate(872.7,603.3) rotate(-32.5)" fill="none" stroke="#000" stroke-width="2.60">
<path d="M0,0 C8,-6 20,-7.5 30.5,-7.2 L30.5,7.3 C20,7.5 8,6 0,0 Z" fill="#fff"/>
<path d="M30.5,-7.2 L41.3,-9 L41.3,9 L30.5,7.3" fill="#fff"/>
<rect x="41.3" y="-7" width="27" height="14" fill="#fff"/>
<rect x="42.5" y="-4.3" width="13" height="8.5" rx="3"/>
<line x1="35" y1="0" x2="42.5" y2="0"/>
<rect x="13.1" y="-1.8" width="14.5" height="3.6" fill="#f22" stroke="#c00" stroke-width="1.30"/>
<circle cx="11" cy="0" r="2.3" fill="#000"/>
</g>
<rect x="-3" y="-3.5" width="6" height="7" fill="#000" transform="translate(930,567) rotate(-32.5)"/>
<path d="M709.1,502.0 L711.40,502.00 L712.20,506.00 L714.12,512.00 L714.40,513.60 L715.34,514.90 L715.50,516.20 L715.34,517.50 L714.40,518.80 L713.74,522.28 L714.40,525.76 L715.34,527.06 L715.50,528.36 L715.34,529.66 L714.40,530.96 L713.74,534.44 L714.40,537.92 L715.34,539.22 L715.50,540.52 L715.34,541.82 L714.40,543.12 L713.74,546.60 L714.40,550.08 L715.34,551.38 L715.50,552.68 L715.34,553.98 L714.40,555.28 L713.74,558.76 L714.40,562.24 L715.34,563.54 L715.50,564.84 L715.34,566.14 L714.40,567.44 L713.74,570.92 L714.40,574.40 L715.34,575.70 L715.50,577.00 L715.34,578.30 L714.40,579.60 L713.02,583.00 L711.60,587.20 L710.90,588.00 L709.10,588.00 L708.40,587.20 L706.98,583.00 L705.60,579.60 L704.66,578.30 L704.50,577.00 L704.66,575.70 L705.60,574.40 L706.26,570.92 L705.60,567.44 L704.66,566.14 L704.50,564.84 L704.66,563.54 L705.60,562.24 L706.26,558.76 L705.60,555.28 L704.66,553.98 L704.50,552.68 L704.66,551.38 L705.60,550.08 L706.26,546.60 L705.60,543.12 L704.66,541.82 L704.50,540.52 L704.66,539.22 L705.60,537.92 L706.26,534.44 L705.60,530.96 L704.66,529.66 L704.50,528.36 L704.66,527.06 L705.60,525.76 L706.26,522.28 L705.60,518.80 L704.66,517.50 L704.50,516.20 L704.66,514.90 L705.60,513.60 L705.88,512.00 L707.80,506.00 L708.60,502.00 Z" fill="#000" stroke="#000" stroke-width="1.56" stroke-linejoin="round"/>
<line x1="710.0" y1="499.0" x2="710.0" y2="502.5" stroke="#3c3" stroke-width="4.16"/>
<rect x="707.4" y="502.0" width="5.2" height="6" fill="#ee0"/>
<rect x="707.7" y="521.1" width="4.6" height="4.6" fill="#ee0"/>
<rect x="707.7" y="545.4" width="4.6" height="4.6" fill="#ee0"/>
<rect x="707.7" y="569.7" width="4.6" height="4.6" fill="#ee0"/>
<path d="M733.4,550.5 L735.70,550.50 L736.50,554.50 L738.42,560.50 L738.70,562.10 L739.63,563.40 L739.80,564.70 L739.63,566.00 L738.70,567.30 L738.04,571.00 L738.70,574.70 L739.63,576.00 L739.80,577.30 L739.63,578.60 L738.70,579.90 L738.04,583.60 L738.70,587.30 L739.63,588.60 L739.80,589.90 L739.63,591.20 L738.70,592.50 L738.04,596.20 L738.70,599.90 L739.63,601.20 L739.80,602.50 L739.63,603.80 L738.70,605.10 L737.32,608.50 L735.90,612.70 L735.20,613.50 L733.40,613.50 L732.70,612.70 L731.27,608.50 L729.90,605.10 L728.96,603.80 L728.80,602.50 L728.96,601.20 L729.90,599.90 L730.56,596.20 L729.90,592.50 L728.96,591.20 L728.80,589.90 L728.96,588.60 L729.90,587.30 L730.56,583.60 L729.90,579.90 L728.96,578.60 L728.80,577.30 L728.96,576.00 L729.90,574.70 L730.56,571.00 L729.90,567.30 L728.96,566.00 L728.80,564.70 L728.96,563.40 L729.90,562.10 L730.17,560.50 L732.10,554.50 L732.90,550.50 Z" fill="#000" stroke="#000" stroke-width="1.56" stroke-linejoin="round"/>
<line x1="734.3" y1="547.5" x2="734.3" y2="551.0" stroke="#3c3" stroke-width="4.16"/>
<rect x="731.7" y="550.5" width="5.2" height="6" fill="#ee0"/>
<rect x="732.0" y="569.8" width="4.6" height="4.6" fill="#ee0"/>
<rect x="732.0" y="595.0" width="4.6" height="4.6" fill="#ee0"/>
<path d="M758.4,571.5 L760.70,571.50 L761.50,575.50 L763.42,581.50 L763.70,583.10 L764.63,584.40 L764.80,585.70 L764.63,587.00 L763.70,588.30 L763.04,592.00 L763.70,595.70 L764.63,597.00 L764.80,598.30 L764.63,599.60 L763.70,600.90 L763.04,604.60 L763.70,608.30 L764.63,609.60 L764.80,610.90 L764.63,612.20 L763.70,613.50 L763.04,617.20 L763.70,620.90 L764.63,622.20 L764.80,623.50 L764.63,624.80 L763.70,626.10 L762.32,629.50 L760.90,633.70 L760.20,634.50 L758.40,634.50 L757.70,633.70 L756.27,629.50 L754.90,626.10 L753.96,624.80 L753.80,623.50 L753.96,622.20 L754.90,620.90 L755.56,617.20 L754.90,613.50 L753.96,612.20 L753.80,610.90 L753.96,609.60 L754.90,608.30 L755.56,604.60 L754.90,600.90 L753.96,599.60 L753.80,598.30 L753.96,597.00 L754.90,595.70 L755.56,592.00 L754.90,588.30 L753.96,587.00 L753.80,585.70 L753.96,584.40 L754.90,583.10 L755.17,581.50 L757.10,575.50 L757.90,571.50 Z" fill="#000" stroke="#000" stroke-width="1.56" stroke-linejoin="round"/>
<line x1="759.3" y1="568.5" x2="759.3" y2="572.0" stroke="#3c3" stroke-width="4.16"/>
<rect x="756.7" y="571.5" width="5.2" height="6" fill="#ee0"/>
<rect x="757.0" y="590.8" width="4.6" height="4.6" fill="#ee0"/>
<rect x="757.0" y="616.0" width="4.6" height="4.6" fill="#ee0"/>
<path d="M783.1,585.5 L785.40,585.50 L786.20,589.50 L788.12,595.50 L788.40,597.10 L789.34,598.40 L789.50,599.70 L789.34,601.00 L788.40,602.30 L787.74,606.00 L788.40,609.70 L789.34,611.00 L789.50,612.30 L789.34,613.60 L788.40,614.90 L787.74,618.60 L788.40,622.30 L789.34,623.60 L789.50,624.90 L789.34,626.20 L788.40,627.50 L787.74,631.20 L788.40,634.90 L789.34,636.20 L789.50,637.50 L789.34,638.80 L788.40,640.10 L787.02,643.50 L785.60,647.70 L784.90,648.50 L783.10,648.50 L782.40,647.70 L780.98,643.50 L779.60,640.10 L778.66,638.80 L778.50,637.50 L778.66,636.20 L779.60,634.90 L780.26,631.20 L779.60,627.50 L778.66,626.20 L778.50,624.90 L778.66,623.60 L779.60,622.30 L780.26,618.60 L779.60,614.90 L778.66,613.60 L778.50,612.30 L778.66,611.00 L779.60,609.70 L780.26,606.00 L779.60,602.30 L778.66,601.00 L778.50,599.70 L778.66,598.40 L779.60,597.10 L779.88,595.50 L781.80,589.50 L782.60,585.50 Z" fill="#000" stroke="#000" stroke-width="1.56" stroke-linejoin="round"/>
<line x1="784.0" y1="582.5" x2="784.0" y2="586.0" stroke="#3c3" stroke-width="4.16"/>
<rect x="781.4" y="585.5" width="5.2" height="6" fill="#ee0"/>
<rect x="781.7" y="604.8" width="4.6" height="4.6" fill="#ee0"/>
<rect x="781.7" y="630.0" width="4.6" height="4.6" fill="#ee0"/>
<path d="M808.3,597.0 L810.60,597.00 L811.40,601.00 L813.33,607.00 L813.60,608.60 L814.54,609.90 L814.70,611.20 L814.54,612.50 L813.60,613.80 L812.94,617.50 L813.60,621.20 L814.54,622.50 L814.70,623.80 L814.54,625.10 L813.60,626.40 L812.94,630.10 L813.60,633.80 L814.54,635.10 L814.70,636.40 L814.54,637.70 L813.60,639.00 L812.94,642.70 L813.60,646.40 L814.54,647.70 L814.70,649.00 L814.54,650.30 L813.60,651.60 L812.23,655.00 L810.80,659.20 L810.10,660.00 L808.30,660.00 L807.60,659.20 L806.18,655.00 L804.80,651.60 L803.87,650.30 L803.70,649.00 L803.87,647.70 L804.80,646.40 L805.46,642.70 L804.80,639.00 L803.87,637.70 L803.70,636.40 L803.87,635.10 L804.80,633.80 L805.46,630.10 L804.80,626.40 L803.87,625.10 L803.70,623.80 L803.87,622.50 L804.80,621.20 L805.46,617.50 L804.80,613.80 L803.87,612.50 L803.70,611.20 L803.87,609.90 L804.80,608.60 L805.08,607.00 L807.00,601.00 L807.80,597.00 Z" fill="#000" stroke="#000" stroke-width="1.56" stroke-linejoin="round"/>
<line x1="809.2" y1="594.0" x2="809.2" y2="597.5" stroke="#3c3" stroke-width="4.16"/>
<rect x="806.6" y="597.0" width="5.2" height="6" fill="#ee0"/>
<rect x="806.9" y="616.3" width="4.6" height="4.6" fill="#ee0"/>
<rect x="806.9" y="641.5" width="4.6" height="4.6" fill="#ee0"/>
<path d="M833.0,606.0 L835.30,606.00 L836.10,610.00 L838.02,616.00 L838.30,617.60 L839.24,618.90 L839.40,620.20 L839.24,621.50 L838.30,622.80 L837.64,626.50 L838.30,630.20 L839.24,631.50 L839.40,632.80 L839.24,634.10 L838.30,635.40 L837.64,639.10 L838.30,642.80 L839.24,644.10 L839.40,645.40 L839.24,646.70 L838.30,648.00 L837.64,651.70 L838.30,655.40 L839.24,656.70 L839.40,658.00 L839.24,659.30 L838.30,660.60 L836.92,664.00 L835.50,668.20 L834.80,669.00 L833.00,669.00 L832.30,668.20 L830.88,664.00 L829.50,660.60 L828.56,659.30 L828.40,658.00 L828.56,656.70 L829.50,655.40 L830.16,651.70 L829.50,648.00 L828.56,646.70 L828.40,645.40 L828.56,644.10 L829.50,642.80 L830.16,639.10 L829.50,635.40 L828.56,634.10 L828.40,632.80 L828.56,631.50 L829.50,630.20 L830.16,626.50 L829.50,622.80 L828.56,621.50 L828.40,620.20 L828.56,618.90 L829.50,617.60 L829.77,616.00 L831.70,610.00 L832.50,606.00 Z" fill="#000" stroke="#000" stroke-width="1.56" stroke-linejoin="round"/>
<line x1="833.9" y1="603.0" x2="833.9" y2="606.5" stroke="#3c3" stroke-width="4.16"/>
<rect x="831.3" y="606.0" width="5.2" height="6" fill="#ee0"/>
<rect x="831.6" y="625.3" width="4.6" height="4.6" fill="#ee0"/>
<rect x="831.6" y="650.5" width="4.6" height="4.6" fill="#ee0"/>
<path d="M858.7,613.0 L861.00,613.00 L861.80,617.00 L863.73,623.00 L864.00,624.60 L864.94,625.90 L865.10,627.20 L864.94,628.50 L864.00,629.80 L863.34,633.50 L864.00,637.20 L864.94,638.50 L865.10,639.80 L864.94,641.10 L864.00,642.40 L863.34,646.10 L864.00,649.80 L864.94,651.10 L865.10,652.40 L864.94,653.70 L864.00,655.00 L863.34,658.70 L864.00,662.40 L864.94,663.70 L865.10,665.00 L864.94,666.30 L864.00,667.60 L862.62,671.00 L861.20,675.20 L860.50,676.00 L858.70,676.00 L858.00,675.20 L856.58,671.00 L855.20,667.60 L854.26,666.30 L854.10,665.00 L854.26,663.70 L855.20,662.40 L855.86,658.70 L855.20,655.00 L854.26,653.70 L854.10,652.40 L854.26,651.10 L855.20,649.80 L855.86,646.10 L855.20,642.40 L854.26,641.10 L854.10,639.80 L854.26,638.50 L855.20,637.20 L855.86,633.50 L855.20,629.80 L854.26,628.50 L854.10,627.20 L854.26,625.90 L855.20,624.60 L855.48,623.00 L857.40,617.00 L858.20,613.00 Z" fill="#000" stroke="#000" stroke-width="1.56" stroke-linejoin="round"/>
<line x1="859.6" y1="610.0" x2="859.6" y2="613.5" stroke="#3c3" stroke-width="4.16"/>
<rect x="857.0" y="613.0" width="5.2" height="6" fill="#ee0"/>
<rect x="857.3" y="632.3" width="4.6" height="4.6" fill="#ee0"/>
<rect x="857.3" y="657.5" width="4.6" height="4.6" fill="#ee0"/>
<path d="M884.1,615.0 L886.40,615.00 L887.20,619.00 L889.12,625.00 L889.40,626.60 L890.34,627.90 L890.50,629.20 L890.34,630.50 L889.40,631.80 L888.74,635.50 L889.40,639.20 L890.34,640.50 L890.50,641.80 L890.34,643.10 L889.40,644.40 L888.74,648.10 L889.40,651.80 L890.34,653.10 L890.50,654.40 L890.34,655.70 L889.40,657.00 L888.74,660.70 L889.40,664.40 L890.34,665.70 L890.50,667.00 L890.34,668.30 L889.40,669.60 L888.02,675.00 L886.60,679.20 L885.90,680.00 L884.10,680.00 L883.40,679.20 L881.98,675.00 L880.60,669.60 L879.66,668.30 L879.50,667.00 L879.66,665.70 L880.60,664.40 L881.26,660.70 L880.60,657.00 L879.66,655.70 L879.50,654.40 L879.66,653.10 L880.60,651.80 L881.26,648.10 L880.60,644.40 L879.66,643.10 L879.50,641.80 L879.66,640.50 L880.60,639.20 L881.26,635.50 L880.60,631.80 L879.66,630.50 L879.50,629.20 L879.66,627.90 L880.60,626.60 L880.88,625.00 L882.80,619.00 L883.60,615.00 Z" fill="#000" stroke="#000" stroke-width="1.56" stroke-linejoin="round"/>
<line x1="885.0" y1="612.0" x2="885.0" y2="615.5" stroke="#3c3" stroke-width="4.16"/>
<rect x="882.4" y="615.0" width="5.2" height="6" fill="#ee0"/>
<rect x="882.7" y="634.3" width="4.6" height="4.6" fill="#ee0"/>
<rect x="882.7" y="659.5" width="4.6" height="4.6" fill="#ee0"/>
<g transform="translate(1819.0,0) scale(-1,1)"><polyline points="709.4,502 709.4,496.5 717.4,496.5 735.5,513.2 735.5,524" fill="none" stroke="#111" stroke-width="4.94"/>
<polyline points="710,513 710,509.6 715.2,508.6 735.5,523.3 735.5,527.5" fill="none" stroke="#f22" stroke-width="5.46"/>
<line x1="735.5" y1="527.5" x2="735.5" y2="532" stroke="#3c3" stroke-width="5.20"/>
<line x1="735.5" y1="532" x2="735.5" y2="548" stroke="#ee0" stroke-width="5.72"/>
<line x1="735.5" y1="548" x2="735.5" y2="550.5" stroke="#3c3" stroke-width="5.20"/>
<rect x="735.5" y="528" width="15.5" height="2.8" fill="none" stroke="#d5d" stroke-width="2.60"/>
<rect x="745" y="528.3" width="3" height="2.2" fill="#000"/>
<path d="M741.3,534 L741.3,530.3 L897.4,530.3 Q899,530.3 899,533.9 M745,533.9 L865.4,533.9" fill="none" stroke="#111" stroke-width="3.12"/>
<line x1="746.4" y1="529.5" x2="746.4" y2="534.5" stroke="#f22" stroke-width="2.60"/>
<line x1="813" y1="529.5" x2="813" y2="534.5" stroke="#f22" stroke-width="2.60"/>
<line x1="872" y1="529.5" x2="872" y2="534.5" stroke="#f22" stroke-width="2.60"/>
<line x1="892.9" y1="529.5" x2="892.9" y2="534.5" stroke="#f22" stroke-width="2.60"/>
<path d="M813.8,541.4 L865.4,541.4 M813.8,547.2 L865.4,547.2" fill="none" stroke="#111" stroke-width="2.86"/>
<path d="M811.6,532.8 L811.6,596.5 M814.5,532.8 L814.5,596.5" fill="none" stroke="#d5d" stroke-width="3.38"/>
<g transform="translate(744.9,544.3) rotate(0.0)" fill="none" stroke="#000" stroke-width="2.60">
<path d="M0,0 C8,-6 20,-7.5 30.5,-7.2 L30.5,7.3 C20,7.5 8,6 0,0 Z" fill="#fff"/>
<path d="M30.5,-7.2 L41.3,-9 L41.3,9 L30.5,7.3" fill="#fff"/>
<rect x="41.3" y="-7" width="27" height="14" fill="#fff"/>
<rect x="42.5" y="-4.3" width="13" height="8.5" rx="3"/>
<line x1="35" y1="0" x2="42.5" y2="0"/>
<rect x="13.1" y="-1.8" width="14.5" height="3.6" fill="#f22" stroke="#c00" stroke-width="1.30"/>
<circle cx="11" cy="0" r="2.3" fill="#000"/>
</g>
<g transform="translate(798.6,584.2) rotate(-16.2)" fill="none" stroke="#000" stroke-width="2.60">
<path d="M0,0 C8,-6 20,-7.5 30.5,-7.2 L30.5,7.3 C20,7.5 8,6 0,0 Z" fill="#fff"/>
<path d="M30.5,-7.2 L41.3,-9 L41.3,9 L30.5,7.3" fill="#fff"/>
<rect x="41.3" y="-7" width="27" height="14" fill="#fff"/>
<rect x="42.5" y="-4.3" width="13" height="8.5" rx="3"/>
<line x1="35" y1="0" x2="42.5" y2="0"/>
<rect x="13.1" y="-1.8" width="14.5" height="3.6" fill="#f22" stroke="#c00" stroke-width="1.30"/>
<circle cx="11" cy="0" r="2.3" fill="#000"/>
</g>
<rect x="-3" y="-3.5" width="6" height="7" fill="#000" transform="translate(866.5,564.8) rotate(-16.2)"/>
<line x1="735.5" y1="550.1" x2="785.5" y2="581.3" stroke="#111" stroke-width="5.07"/>
<polyline points="811.6,596.5 884,611.8 909.5,611.8" fill="none" stroke="#111" stroke-width="6.24"/>
<path d="M869,555 L869,568 Q869,570.7 872,570.7 L875.7,570.7 L875.7,555 M877.5,555 L877.5,570.7 M882.3,555 L882.3,570.7" fill="none" stroke="#111" stroke-width="2.86"/>
<g transform="translate(872.7,603.3) rotate(-32.5)" fill="none" stroke="#000" stroke-width="2.60">
<path d="M0,0 C8,-6 20,-7.5 30.5,-7.2 L30.5,7.3 C20,7.5 8,6 0,0 Z" fill="#fff"/>
<path d="M30.5,-7.2 L41.3,-9 L41.3,9 L30.5,7.3" fill="#fff"/>
<rect x="41.3" y="-7" width="27" height="14" fill="#fff"/>
<rect x="42.5" y="-4.3" width="13" height="8.5" rx="3"/>
<line x1="35" y1="0" x2="42.5" y2="0"/>
<rect x="13.1" y="-1.8" width="14.5" height="3.6" fill="#f22" stroke="#c00" stroke-width="1.30"/>
<circle cx="11" cy="0" r="2.3" fill="#000"/>
</g>
<rect x="-3" y="-3.5" width="6" height="7" fill="#000" transform="translate(930,567) rotate(-32.5)"/>
<path d="M709.1,502.0 L711.40,502.00 L712.20,506.00 L714.12,512.00 L714.40,513.60 L715.34,514.90 L715.50,516.20 L715.34,517.50 L714.40,518.80 L713.74,522.28 L714.40,525.76 L715.34,527.06 L715.50,528.36 L715.34,529.66 L714.40,530.96 L713.74,534.44 L714.40,537.92 L715.34,539.22 L715.50,540.52 L715.34,541.82 L714.40,543.12 L713.74,546.60 L714.40,550.08 L715.34,551.38 L715.50,552.68 L715.34,553.98 L714.40,555.28 L713.74,558.76 L714.40,562.24 L715.34,563.54 L715.50,564.84 L715.34,566.14 L714.40,567.44 L713.74,570.92 L714.40,574.40 L715.34,575.70 L715.50,577.00 L715.34,578.30 L714.40,579.60 L713.02,583.00 L711.60,587.20 L710.90,588.00 L709.10,588.00 L708.40,587.20 L706.98,583.00 L705.60,579.60 L704.66,578.30 L704.50,577.00 L704.66,575.70 L705.60,574.40 L706.26,570.92 L705.60,567.44 L704.66,566.14 L704.50,564.84 L704.66,563.54 L705.60,562.24 L706.26,558.76 L705.60,555.28 L704.66,553.98 L704.50,552.68 L704.66,551.38 L705.60,550.08 L706.26,546.60 L705.60,543.12 L704.66,541.82 L704.50,540.52 L704.66,539.22 L705.60,537.92 L706.26,534.44 L705.60,530.96 L704.66,529.66 L704.50,528.36 L704.66,527.06 L705.60,525.76 L706.26,522.28 L705.60,518.80 L704.66,517.50 L704.50,516.20 L704.66,514.90 L705.60,513.60 L705.88,512.00 L707.80,506.00 L708.60,502.00 Z" fill="#000" stroke="#000" stroke-width="1.56" stroke-linejoin="round"/>
<line x1="710.0" y1="499.0" x2="710.0" y2="502.5" stroke="#3c3" stroke-width="4.16"/>
<rect x="707.4" y="502.0" width="5.2" height="6" fill="#ee0"/>
<rect x="707.7" y="521.1" width="4.6" height="4.6" fill="#ee0"/>
<rect x="707.7" y="545.4" width="4.6" height="4.6" fill="#ee0"/>
<rect x="707.7" y="569.7" width="4.6" height="4.6" fill="#ee0"/>
<path d="M733.4,550.5 L735.70,550.50 L736.50,554.50 L738.42,560.50 L738.70,562.10 L739.63,563.40 L739.80,564.70 L739.63,566.00 L738.70,567.30 L738.04,571.00 L738.70,574.70 L739.63,576.00 L739.80,577.30 L739.63,578.60 L738.70,579.90 L738.04,583.60 L738.70,587.30 L739.63,588.60 L739.80,589.90 L739.63,591.20 L738.70,592.50 L738.04,596.20 L738.70,599.90 L739.63,601.20 L739.80,602.50 L739.63,603.80 L738.70,605.10 L737.32,608.50 L735.90,612.70 L735.20,613.50 L733.40,613.50 L732.70,612.70 L731.27,608.50 L729.90,605.10 L728.96,603.80 L728.80,602.50 L728.96,601.20 L729.90,599.90 L730.56,596.20 L729.90,592.50 L728.96,591.20 L728.80,589.90 L728.96,588.60 L729.90,587.30 L730.56,583.60 L729.90,579.90 L728.96,578.60 L728.80,577.30 L728.96,576.00 L729.90,574.70 L730.56,571.00 L729.90,567.30 L728.96,566.00 L728.80,564.70 L728.96,563.40 L729.90,562.10 L730.17,560.50 L732.10,554.50 L732.90,550.50 Z" fill="#000" stroke="#000" stroke-width="1.56" stroke-linejoin="round"/>
<line x1="734.3" y1="547.5" x2="734.3" y2="551.0" stroke="#3c3" stroke-width="4.16"/>
<rect x="731.7" y="550.5" width="5.2" height="6" fill="#ee0"/>
<rect x="732.0" y="569.8" width="4.6" height="4.6" fill="#ee0"/>
<rect x="732.0" y="595.0" width="4.6" height="4.6" fill="#ee0"/>
<path d="M758.4,571.5 L760.70,571.50 L761.50,575.50 L763.42,581.50 L763.70,583.10 L764.63,584.40 L764.80,585.70 L764.63,587.00 L763.70,588.30 L763.04,592.00 L763.70,595.70 L764.63,597.00 L764.80,598.30 L764.63,599.60 L763.70,600.90 L763.04,604.60 L763.70,608.30 L764.63,609.60 L764.80,610.90 L764.63,612.20 L763.70,613.50 L763.04,617.20 L763.70,620.90 L764.63,622.20 L764.80,623.50 L764.63,624.80 L763.70,626.10 L762.32,629.50 L760.90,633.70 L760.20,634.50 L758.40,634.50 L757.70,633.70 L756.27,629.50 L754.90,626.10 L753.96,624.80 L753.80,623.50 L753.96,622.20 L754.90,620.90 L755.56,617.20 L754.90,613.50 L753.96,612.20 L753.80,610.90 L753.96,609.60 L754.90,608.30 L755.56,604.60 L754.90,600.90 L753.96,599.60 L753.80,598.30 L753.96,597.00 L754.90,595.70 L755.56,592.00 L754.90,588.30 L753.96,587.00 L753.80,585.70 L753.96,584.40 L754.90,583.10 L755.17,581.50 L757.10,575.50 L757.90,571.50 Z" fill="#000" stroke="#000" stroke-width="1.56" stroke-linejoin="round"/>
<line x1="759.3" y1="568.5" x2="759.3" y2="572.0" stroke="#3c3" stroke-width="4.16"/>
<rect x="756.7" y="571.5" width="5.2" height="6" fill="#ee0"/>
<rect x="757.0" y="590.8" width="4.6" height="4.6" fill="#ee0"/>
<rect x="757.0" y="616.0" width="4.6" height="4.6" fill="#ee0"/>
<path d="M783.1,585.5 L785.40,585.50 L786.20,589.50 L788.12,595.50 L788.40,597.10 L789.34,598.40 L789.50,599.70 L789.34,601.00 L788.40,602.30 L787.74,606.00 L788.40,609.70 L789.34,611.00 L789.50,612.30 L789.34,613.60 L788.40,614.90 L787.74,618.60 L788.40,622.30 L789.34,623.60 L789.50,624.90 L789.34,626.20 L788.40,627.50 L787.74,631.20 L788.40,634.90 L789.34,636.20 L789.50,637.50 L789.34,638.80 L788.40,640.10 L787.02,643.50 L785.60,647.70 L784.90,648.50 L783.10,648.50 L782.40,647.70 L780.98,643.50 L779.60,640.10 L778.66,638.80 L778.50,637.50 L778.66,636.20 L779.60,634.90 L780.26,631.20 L779.60,627.50 L778.66,626.20 L778.50,624.90 L778.66,623.60 L779.60,622.30 L780.26,618.60 L779.60,614.90 L778.66,613.60 L778.50,612.30 L778.66,611.00 L779.60,609.70 L780.26,606.00 L779.60,602.30 L778.66,601.00 L778.50,599.70 L778.66,598.40 L779.60,597.10 L779.88,595.50 L781.80,589.50 L782.60,585.50 Z" fill="#000" stroke="#000" stroke-width="1.56" stroke-linejoin="round"/>
<line x1="784.0" y1="582.5" x2="784.0" y2="586.0" stroke="#3c3" stroke-width="4.16"/>
<rect x="781.4" y="585.5" width="5.2" height="6" fill="#ee0"/>
<rect x="781.7" y="604.8" width="4.6" height="4.6" fill="#ee0"/>
<rect x="781.7" y="630.0" width="4.6" height="4.6" fill="#ee0"/>
<path d="M808.3,597.0 L810.60,597.00 L811.40,601.00 L813.33,607.00 L813.60,608.60 L814.54,609.90 L814.70,611.20 L814.54,612.50 L813.60,613.80 L812.94,617.50 L813.60,621.20 L814.54,622.50 L814.70,623.80 L814.54,625.10 L813.60,626.40 L812.94,630.10 L813.60,633.80 L814.54,635.10 L814.70,636.40 L814.54,637.70 L813.60,639.00 L812.94,642.70 L813.60,646.40 L814.54,647.70 L814.70,649.00 L814.54,650.30 L813.60,651.60 L812.23,655.00 L810.80,659.20 L810.10,660.00 L808.30,660.00 L807.60,659.20 L806.18,655.00 L804.80,651.60 L803.87,650.30 L803.70,649.00 L803.87,647.70 L804.80,646.40 L805.46,642.70 L804.80,639.00 L803.87,637.70 L803.70,636.40 L803.87,635.10 L804.80,633.80 L805.46,630.10 L804.80,626.40 L803.87,625.10 L803.70,623.80 L803.87,622.50 L804.80,621.20 L805.46,617.50 L804.80,613.80 L803.87,612.50 L803.70,611.20 L803.87,609.90 L804.80,608.60 L805.08,607.00 L807.00,601.00 L807.80,597.00 Z" fill="#000" stroke="#000" stroke-width="1.56" stroke-linejoin="round"/>
<line x1="809.2" y1="594.0" x2="809.2" y2="597.5" stroke="#3c3" stroke-width="4.16"/>
<rect x="806.6" y="597.0" width="5.2" height="6" fill="#ee0"/>
<rect x="806.9" y="616.3" width="4.6" height="4.6" fill="#ee0"/>
<rect x="806.9" y="641.5" width="4.6" height="4.6" fill="#ee0"/>
<path d="M833.0,606.0 L835.30,606.00 L836.10,610.00 L838.02,616.00 L838.30,617.60 L839.24,618.90 L839.40,620.20 L839.24,621.50 L838.30,622.80 L837.64,626.50 L838.30,630.20 L839.24,631.50 L839.40,632.80 L839.24,634.10 L838.30,635.40 L837.64,639.10 L838.30,642.80 L839.24,644.10 L839.40,645.40 L839.24,646.70 L838.30,648.00 L837.64,651.70 L838.30,655.40 L839.24,656.70 L839.40,658.00 L839.24,659.30 L838.30,660.60 L836.92,664.00 L835.50,668.20 L834.80,669.00 L833.00,669.00 L832.30,668.20 L830.88,664.00 L829.50,660.60 L828.56,659.30 L828.40,658.00 L828.56,656.70 L829.50,655.40 L830.16,651.70 L829.50,648.00 L828.56,646.70 L828.40,645.40 L828.56,644.10 L829.50,642.80 L830.16,639.10 L829.50,635.40 L828.56,634.10 L828.40,632.80 L828.56,631.50 L829.50,630.20 L830.16,626.50 L829.50,622.80 L828.56,621.50 L828.40,620.20 L828.56,618.90 L829.50,617.60 L829.77,616.00 L831.70,610.00 L832.50,606.00 Z" fill="#000" stroke="#000" stroke-width="1.56" stroke-linejoin="round"/>
<line x1="833.9" y1="603.0" x2="833.9" y2="606.5" stroke="#3c3" stroke-width="4.16"/>
<rect x="831.3" y="606.0" width="5.2" height="6" fill="#ee0"/>
<rect x="831.6" y="625.3" width="4.6" height="4.6" fill="#ee0"/>
<rect x="831.6" y="650.5" width="4.6" height="4.6" fill="#ee0"/>
<path d="M858.7,613.0 L861.00,613.00 L861.80,617.00 L863.73,623.00 L864.00,624.60 L864.94,625.90 L865.10,627.20 L864.94,628.50 L864.00,629.80 L863.34,633.50 L864.00,637.20 L864.94,638.50 L865.10,639.80 L864.94,641.10 L864.00,642.40 L863.34,646.10 L864.00,649.80 L864.94,651.10 L865.10,652.40 L864.94,653.70 L864.00,655.00 L863.34,658.70 L864.00,662.40 L864.94,663.70 L865.10,665.00 L864.94,666.30 L864.00,667.60 L862.62,671.00 L861.20,675.20 L860.50,676.00 L858.70,676.00 L858.00,675.20 L856.58,671.00 L855.20,667.60 L854.26,666.30 L854.10,665.00 L854.26,663.70 L855.20,662.40 L855.86,658.70 L855.20,655.00 L854.26,653.70 L854.10,652.40 L854.26,651.10 L855.20,649.80 L855.86,646.10 L855.20,642.40 L854.26,641.10 L854.10,639.80 L854.26,638.50 L855.20,637.20 L855.86,633.50 L855.20,629.80 L854.26,628.50 L854.10,627.20 L854.26,625.90 L855.20,624.60 L855.48,623.00 L857.40,617.00 L858.20,613.00 Z" fill="#000" stroke="#000" stroke-width="1.56" stroke-linejoin="round"/>
<line x1="859.6" y1="610.0" x2="859.6" y2="613.5" stroke="#3c3" stroke-width="4.16"/>
<rect x="857.0" y="613.0" width="5.2" height="6" fill="#ee0"/>
<rect x="857.3" y="632.3" width="4.6" height="4.6" fill="#ee0"/>
<rect x="857.3" y="657.5" width="4.6" height="4.6" fill="#ee0"/>
<path d="M884.1,615.0 L886.40,615.00 L887.20,619.00 L889.12,625.00 L889.40,626.60 L890.34,627.90 L890.50,629.20 L890.34,630.50 L889.40,631.80 L888.74,635.50 L889.40,639.20 L890.34,640.50 L890.50,641.80 L890.34,643.10 L889.40,644.40 L888.74,648.10 L889.40,651.80 L890.34,653.10 L890.50,654.40 L890.34,655.70 L889.40,657.00 L888.74,660.70 L889.40,664.40 L890.34,665.70 L890.50,667.00 L890.34,668.30 L889.40,669.60 L888.02,675.00 L886.60,679.20 L885.90,680.00 L884.10,680.00 L883.40,679.20 L881.98,675.00 L880.60,669.60 L879.66,668.30 L879.50,667.00 L879.66,665.70 L880.60,664.40 L881.26,660.70 L880.60,657.00 L879.66,655.70 L879.50,654.40 L879.66,653.10 L880.60,651.80 L881.26,648.10 L880.60,644.40 L879.66,643.10 L879.50,641.80 L879.66,640.50 L880.60,639.20 L881.26,635.50 L880.60,631.80 L879.66,630.50 L879.50,629.20 L879.66,627.90 L880.60,626.60 L880.88,625.00 L882.80,619.00 L883.60,615.00 Z" fill="#000" stroke="#000" stroke-width="1.56" stroke-linejoin="round"/>
<line x1="885.0" y1="612.0" x2="885.0" y2="615.5" stroke="#3c3" stroke-width="4.16"/>
<rect x="882.4" y="615.0" width="5.2" height="6" fill="#ee0"/>
<rect x="882.7" y="634.3" width="4.6" height="4.6" fill="#ee0"/>
<rect x="882.7" y="659.5" width="4.6" height="4.6" fill="#ee0"/></g>
<path d="M908.6,615.0 L910.90,615.00 L911.70,619.00 L913.62,625.00 L913.90,626.60 L914.84,627.90 L915.00,629.20 L914.84,630.50 L913.90,631.80 L913.24,635.50 L913.90,639.20 L914.84,640.50 L915.00,641.80 L914.84,643.10 L913.90,644.40 L913.24,648.10 L913.90,651.80 L914.84,653.10 L915.00,654.40 L914.84,655.70 L913.90,657.00 L913.24,660.70 L913.90,664.40 L914.84,665.70 L915.00,667.00 L914.84,668.30 L913.90,669.60 L912.52,675.00 L911.10,679.20 L910.40,680.00 L908.60,680.00 L907.90,679.20 L906.48,675.00 L905.10,669.60 L904.16,668.30 L904.00,667.00 L904.16,665.70 L905.10,664.40 L905.76,660.70 L905.10,657.00 L904.16,655.70 L904.00,654.40 L904.16,653.10 L905.10,651.80 L905.76,648.10 L905.10,644.40 L904.16,643.10 L904.00,641.80 L904.16,640.50 L905.10,639.20 L905.76,635.50 L905.10,631.80 L904.16,630.50 L904.00,629.20 L904.16,627.90 L905.10,626.60 L905.38,625.00 L907.30,619.00 L908.10,615.00 Z" fill="#000" stroke="#000" stroke-width="1.56" stroke-linejoin="round"/>
<line x1="909.5" y1="612.0" x2="909.5" y2="615.5" stroke="#3c3" stroke-width="4.16"/>
<rect x="906.9" y="615.0" width="5.2" height="6" fill="#ee0"/>
<rect x="907.2" y="634.3" width="4.6" height="4.6" fill="#ee0"/>
<rect x="907.2" y="659.5" width="4.6" height="4.6" fill="#ee0"/>
<rect x="865.4" y="533.9" width="90" height="21.1" fill="#fff" stroke="#111" stroke-width="3.38"/>
</g>
<polygon points="470.75,312.0 476.90000000000003,317.29 476.90000000000003,328.21 470.75,333.5 464.6,328.21 464.6,317.29" fill="#2a2a2a" stroke="#000" stroke-width="1.4" stroke-linejoin="round"/>
<path d="M470.75,314.5 L475.1,318.85 L475.1,326.65 L470.75,331.0 L466.40000000000003,326.65 L466.40000000000003,318.85 Z M468.55,318.85 L468.55,326.65 M472.95,318.85 L472.95,326.65 M466.40000000000003,318.85 L470.75,322.75 L475.1,318.85 M466.40000000000003,326.65 L470.75,322.75 L475.1,326.65" fill="none" stroke="#ccc" stroke-width="0.8"/>
<circle cx="468.15" cy="321.775" r="1.3" fill="#fff"/><circle cx="473.35" cy="321.775" r="1.3" fill="#fff"/>
<polygon points="470.75,331.5 476.90000000000003,336.79 476.90000000000003,347.71 470.75,353.0 464.6,347.71 464.6,336.79" fill="#2a2a2a" stroke="#000" stroke-width="1.4" stroke-linejoin="round"/>
<path d="M470.75,334.0 L475.1,338.35 L475.1,346.15 L470.75,350.5 L466.40000000000003,346.15 L466.40000000000003,338.35 Z M468.55,338.35 L468.55,346.15 M472.95,338.35 L472.95,346.15 M466.40000000000003,338.35 L470.75,342.25 L475.1,338.35 M466.40000000000003,346.15 L470.75,342.25 L475.1,346.15" fill="none" stroke="#ccc" stroke-width="0.8"/>
<circle cx="468.15" cy="341.275" r="1.3" fill="#fff"/><circle cx="473.35" cy="341.275" r="1.3" fill="#fff"/>
<rect x="469.55" y="330.0" width="2.4" height="4" fill="#ee0"/>
<polygon points="470.75,351.0 476.90000000000003,356.29 476.90000000000003,367.21 470.75,372.5 464.6,367.21 464.6,356.29" fill="#2a2a2a" stroke="#000" stroke-width="1.4" stroke-linejoin="round"/>
<path d="M470.75,353.5 L475.1,357.85 L475.1,365.65 L470.75,370.0 L466.40000000000003,365.65 L466.40000000000003,357.85 Z M468.55,357.85 L468.55,365.65 M472.95,357.85 L472.95,365.65 M466.40000000000003,357.85 L470.75,361.75 L475.1,357.85 M466.40000000000003,365.65 L470.75,361.75 L475.1,365.65" fill="none" stroke="#ccc" stroke-width="0.8"/>
<circle cx="468.15" cy="360.775" r="1.3" fill="#fff"/><circle cx="473.35" cy="360.775" r="1.3" fill="#fff"/>
<rect x="469.55" y="349.5" width="2.4" height="4" fill="#ee0"/>
<rect x="469.55" y="309.5" width="2.4" height="5" fill="#ee0"/>
<polygon points="481.54999999999995,320.0 487.7,325.29 487.7,336.21 481.54999999999995,341.5 475.4,336.21 475.4,325.29" fill="#2a2a2a" stroke="#000" stroke-width="1.4" stroke-linejoin="round"/>
<path d="M481.54999999999995,322.5 L485.9,326.85 L485.9,334.65 L481.54999999999995,339.0 L477.2,334.65 L477.2,326.85 Z M479.34999999999997,326.85 L479.34999999999997,334.65 M483.74999999999994,326.85 L483.74999999999994,334.65 M477.2,326.85 L481.54999999999995,330.75 L485.9,326.85 M477.2,334.65 L481.54999999999995,330.75 L485.9,334.65" fill="none" stroke="#ccc" stroke-width="0.8"/>
<circle cx="478.94999999999993" cy="329.775" r="1.3" fill="#fff"/><circle cx="484.15" cy="329.775" r="1.3" fill="#fff"/>
<polygon points="481.54999999999995,339.5 487.7,344.79 487.7,355.71 481.54999999999995,361.0 475.4,355.71 475.4,344.79" fill="#2a2a2a" stroke="#000" stroke-width="1.4" stroke-linejoin="round"/>
<path d="M481.54999999999995,342.0 L485.9,346.35 L485.9,354.15 L481.54999999999995,358.5 L477.2,354.15 L477.2,346.35 Z M479.34999999999997,346.35 L479.34999999999997,354.15 M483.74999999999994,346.35 L483.74999999999994,354.15 M477.2,346.35 L481.54999999999995,350.25 L485.9,346.35 M477.2,354.15 L481.54999999999995,350.25 L485.9,354.15" fill="none" stroke="#ccc" stroke-width="0.8"/>
<circle cx="478.94999999999993" cy="349.275" r="1.3" fill="#fff"/><circle cx="484.15" cy="349.275" r="1.3" fill="#fff"/>
<rect x="480.34999999999997" y="338.0" width="2.4" height="4" fill="#ee0"/>
<polygon points="481.54999999999995,359.0 487.7,364.29 487.7,375.21 481.54999999999995,380.5 475.4,375.21 475.4,364.29" fill="#2a2a2a" stroke="#000" stroke-width="1.4" stroke-linejoin="round"/>
<path d="M481.54999999999995,361.5 L485.9,365.85 L485.9,373.65 L481.54999999999995,378.0 L477.2,373.65 L477.2,365.85 Z M479.34999999999997,365.85 L479.34999999999997,373.65 M483.74999999999994,365.85 L483.74999999999994,373.65 M477.2,365.85 L481.54999999999995,369.75 L485.9,365.85 M477.2,373.65 L481.54999999999995,369.75 L485.9,373.65" fill="none" stroke="#ccc" stroke-width="0.8"/>
<circle cx="478.94999999999993" cy="368.775" r="1.3" fill="#fff"/><circle cx="484.15" cy="368.775" r="1.3" fill="#fff"/>
<rect x="480.34999999999997" y="357.5" width="2.4" height="4" fill="#ee0"/>
<rect x="480.34999999999997" y="317.5" width="2.4" height="5" fill="#ee0"/>
<line x1="441" y1="340.6" x2="464.6" y2="337.3" stroke="#000" stroke-width="1.2"/>
<polygon points="446.55,387 452.4,392.18 452.4,402.82 446.55,408 440.7,402.82 440.7,392.18" fill="#2a2a2a" stroke="#000" stroke-width="1.4" stroke-linejoin="round"/>
<path d="M446.55,389.5 L450.59999999999997,393.7 L450.59999999999997,401.3 L446.55,405.5 L442.5,401.3 L442.5,393.7 Z M444.35,393.7 L444.35,401.3 M448.75,393.7 L448.75,401.3 M442.5,393.7 L446.55,397.5 L450.59999999999997,393.7 M442.5,401.3 L446.55,397.5 L450.59999999999997,401.3" fill="none" stroke="#ccc" stroke-width="0.8"/>
<circle cx="443.95" cy="396.55" r="1.3" fill="#fff"/><circle cx="449.15000000000003" cy="396.55" r="1.3" fill="#fff"/>
<polygon points="446.55,406 452.4,411.18 452.4,421.82 446.55,427 440.7,421.82 440.7,411.18" fill="#2a2a2a" stroke="#000" stroke-width="1.4" stroke-linejoin="round"/>
<path d="M446.55,408.5 L450.59999999999997,412.7 L450.59999999999997,420.3 L446.55,424.5 L442.5,420.3 L442.5,412.7 Z M444.35,412.7 L444.35,420.3 M448.75,412.7 L448.75,420.3 M442.5,412.7 L446.55,416.5 L450.59999999999997,412.7 M442.5,420.3 L446.55,416.5 L450.59999999999997,420.3" fill="none" stroke="#ccc" stroke-width="0.8"/>
<circle cx="443.95" cy="415.55" r="1.3" fill="#fff"/><circle cx="449.15000000000003" cy="415.55" r="1.3" fill="#fff"/>
<rect x="445.35" y="404.5" width="2.4" height="4" fill="#ee0"/>
<rect x="445.35" y="384.5" width="2.4" height="5" fill="#ee0"/>
<polygon points="457.25,378 463.0,383.18 463.0,393.82 457.25,399 451.5,393.82 451.5,383.18" fill="#2a2a2a" stroke="#000" stroke-width="1.4" stroke-linejoin="round"/>
<path d="M457.25,380.5 L461.2,384.7 L461.2,392.3 L457.25,396.5 L453.3,392.3 L453.3,384.7 Z M455.05,384.7 L455.05,392.3 M459.45,384.7 L459.45,392.3 M453.3,384.7 L457.25,388.5 L461.2,384.7 M453.3,392.3 L457.25,388.5 L461.2,392.3" fill="none" stroke="#ccc" stroke-width="0.8"/>
<circle cx="454.65" cy="387.55" r="1.3" fill="#fff"/><circle cx="459.85" cy="387.55" r="1.3" fill="#fff"/>
<polygon points="457.25,397 463.0,402.18 463.0,412.82 457.25,418 451.5,412.82 451.5,402.18" fill="#2a2a2a" stroke="#000" stroke-width="1.4" stroke-linejoin="round"/>
<path d="M457.25,399.5 L461.2,403.7 L461.2,411.3 L457.25,415.5 L453.3,411.3 L453.3,403.7 Z M455.05,403.7 L455.05,411.3 M459.45,403.7 L459.45,411.3 M453.3,403.7 L457.25,407.5 L461.2,403.7 M453.3,411.3 L457.25,407.5 L461.2,411.3" fill="none" stroke="#ccc" stroke-width="0.8"/>
<circle cx="454.65" cy="406.55" r="1.3" fill="#fff"/><circle cx="459.85" cy="406.55" r="1.3" fill="#fff"/>
<rect x="456.05" y="395.5" width="2.4" height="4" fill="#ee0"/>
<rect x="456.05" y="375.5" width="2.4" height="5" fill="#ee0"/>
<circle cx="446.5" cy="383.5" r="4.5" fill="#222" stroke="#000" stroke-width="1"/>
<path d="M443,383.5 L450,383.5 M446.5,380 L446.5,387 M444,381 L449,386 M449,381 L444,386" stroke="#aaa" stroke-width="0.5"/>
<rect x="445.3" y="375.5" width="2.4" height="4.5" fill="#ee0"/>
<g class="sf" font-weight="bold" fill="#000">
<text x="469.9" y="387.5" font-size="17" textLength="9.6" lengthAdjust="spacingAndGlyphs">A</text>
<text x="441.9" y="439.2" font-size="19" textLength="21" lengthAdjust="spacingAndGlyphs">BC</text>
</g>
<path d="M424.4,375.3 C424,390 420,398 413,404 C406,410 415,412 433,409.4 C420,412 400,414 380,413.5 C365,413 350,416 338,417" fill="none" stroke="#000" stroke-width="1.1"/>
<!--ENDDRAW-->
<!-- LEFT LABELS -->
<g fill="#111" font-size="12">
<text x="83.4" y="110.9" textLength="117.4" lengthAdjust="spacingAndGlyphs">Прозрачный провод</text>
<text x="47" y="135.5" textLength="73.7" lengthAdjust="spacingAndGlyphs">Уплотнитель</text>
<text x="47" y="152.4" textLength="41.8" lengthAdjust="spacingAndGlyphs">Планка</text>
<text x="47" y="174.3" textLength="50" lengthAdjust="spacingAndGlyphs">Саморез</text>
<text x="47" y="194.4" textLength="44.7" lengthAdjust="spacingAndGlyphs">Клемма</text>
<text x="47" y="237.4" textLength="48" lengthAdjust="spacingAndGlyphs">Насадка</text>
<text x="46.6" y="321.6" textLength="56.3" lengthAdjust="spacingAndGlyphs">Арматура</text>
<text x="46.6" y="346.75" textLength="137" lengthAdjust="spacingAndGlyphs">Лампы в комплекте нет</text>
<text x="46.6" y="361.4" textLength="40.4" lengthAdjust="spacingAndGlyphs">E14*24</text>
</g>
<g class="sf" fill="#000" font-weight="bold" font-size="19.5" stroke="#000" stroke-width="0.4">
<text x="33.2" y="137.9" textLength="7.3" lengthAdjust="spacingAndGlyphs">1</text>
<text x="33.6" y="154.8" textLength="8.6" lengthAdjust="spacingAndGlyphs">2</text>
<text x="33.6" y="176" textLength="8.4" lengthAdjust="spacingAndGlyphs">3</text>
<text x="33.7" y="198.3" textLength="9.2" lengthAdjust="spacingAndGlyphs">4</text>
<text x="33.6" y="239" textLength="8.6" lengthAdjust="spacingAndGlyphs">5</text>
</g>
<g fill="#000" font-weight="bold" font-size="18"><text x="27.3" y="324.75" textLength="10.1" lengthAdjust="spacingAndGlyphs">6</text>
<text x="27.3" y="348" textLength="9.6" lengthAdjust="spacingAndGlyphs">7</text></g>
<g fill="#111" font-size="10.6">
<text x="484" y="207.5" textLength="60.5" lengthAdjust="spacingAndGlyphs">Фаза-белый</text>
<text x="484" y="220.7" textLength="104" lengthAdjust="spacingAndGlyphs">Заземление - Синий</text>
<text x="484" y="235.7" textLength="60.5" lengthAdjust="spacingAndGlyphs">Фаза-белый</text>
</g>
<g stroke="#000" stroke-width="1.6" fill="none">
<polyline points="205,108.5 305,108.5 340,126"/>
<line x1="226" y1="134.3" x2="310" y2="134.3"/>
<line x1="99" y1="148.3" x2="308" y2="148.3"/>
<line x1="170" y1="170.3" x2="308" y2="170.3"/>
<polyline points="102.8,192 287.5,192 400,147.5"/>
<line x1="106" y1="232.7" x2="322" y2="232.7"/>
<polyline points="106.2,316.5 230,316.5 233,320"/>
<line x1="194.2" y1="339.8" x2="262" y2="339.8"/>
</g>
<g stroke="#000" stroke-width="1.2" fill="none">
<polyline points="400,153.7 450.6,204.2 476.3,204.2"/>
<polyline points="396.5,154.7 441.4,215.5 476.3,215.5"/>
<polyline points="392.8,155.6 435,229.8 476.3,229.8"/>
</g>

<!-- TABLE -->
<g id="table" stroke="#000" stroke-width="1.3" fill="none">
<rect x="56.5" y="671" width="511.2" height="84.5"/>
<line x1="56.5" y1="692.5" x2="567.7" y2="692.5"/>
<line x1="56.5" y1="713.5" x2="567.7" y2="713.5"/>
<line x1="56.5" y1="734.5" x2="567.7" y2="734.5"/>
<line x1="126.5" y1="671" x2="126.5" y2="755.5"/>
<line x1="434.5" y1="671" x2="434.5" y2="755.5"/>
</g>
<g font-weight="bold" fill="#000" stroke="#000" stroke-width="0.45">
<text x="75" y="686.7" font-size="16" textLength="33" lengthAdjust="spacingAndGlyphs">Номер</text>
<text x="240.7" y="687" font-size="16" textLength="43.3" lengthAdjust="spacingAndGlyphs">Подвесы</text>
<text x="480" y="685.5" font-size="11" textLength="40" lengthAdjust="spacingAndGlyphs">Количество</text>
<text x="141" y="709.4" font-size="17" textLength="103" lengthAdjust="spacingAndGlyphs">Хрусталь 47*30*3шт.</text>
<text x="141" y="730.2" font-size="17" textLength="204.6" lengthAdjust="spacingAndGlyphs" stroke-width="0">Октаконы 20#*1шт.+Фрустали 47*30*2шт.</text>
<text x="141" y="750.6" font-size="17" textLength="101.8" lengthAdjust="spacingAndGlyphs" stroke-width="0">Хрусталь 47*30*2шт.</text>
<text x="464.5" y="709.3" font-size="19" textLength="74.7" lengthAdjust="spacingAndGlyphs">Подвесы 96шт.</text>
<text x="464.5" y="730.3" font-size="19" textLength="80.5" lengthAdjust="spacingAndGlyphs">Подвесы 169шт.</text>
<text x="464.5" y="751.3" font-size="19" textLength="80.5" lengthAdjust="spacingAndGlyphs">Подвесы 168шт.</text>
</g>
<g class="sf" font-weight="bold" fill="#000" font-family="Liberation Serif">
<text x="83.6" y="710.5" font-size="18" textLength="9.7" lengthAdjust="spacingAndGlyphs" font-family="Liberation Serif">A</text>
<text x="83.6" y="731.5" font-size="18" textLength="9.7" lengthAdjust="spacingAndGlyphs" font-family="Liberation Serif">B</text>
<text x="83.6" y="752" font-size="18" textLength="9.7" lengthAdjust="spacingAndGlyphs" font-family="Liberation Serif">C</text>
</g>
</svg>
</body></html>
